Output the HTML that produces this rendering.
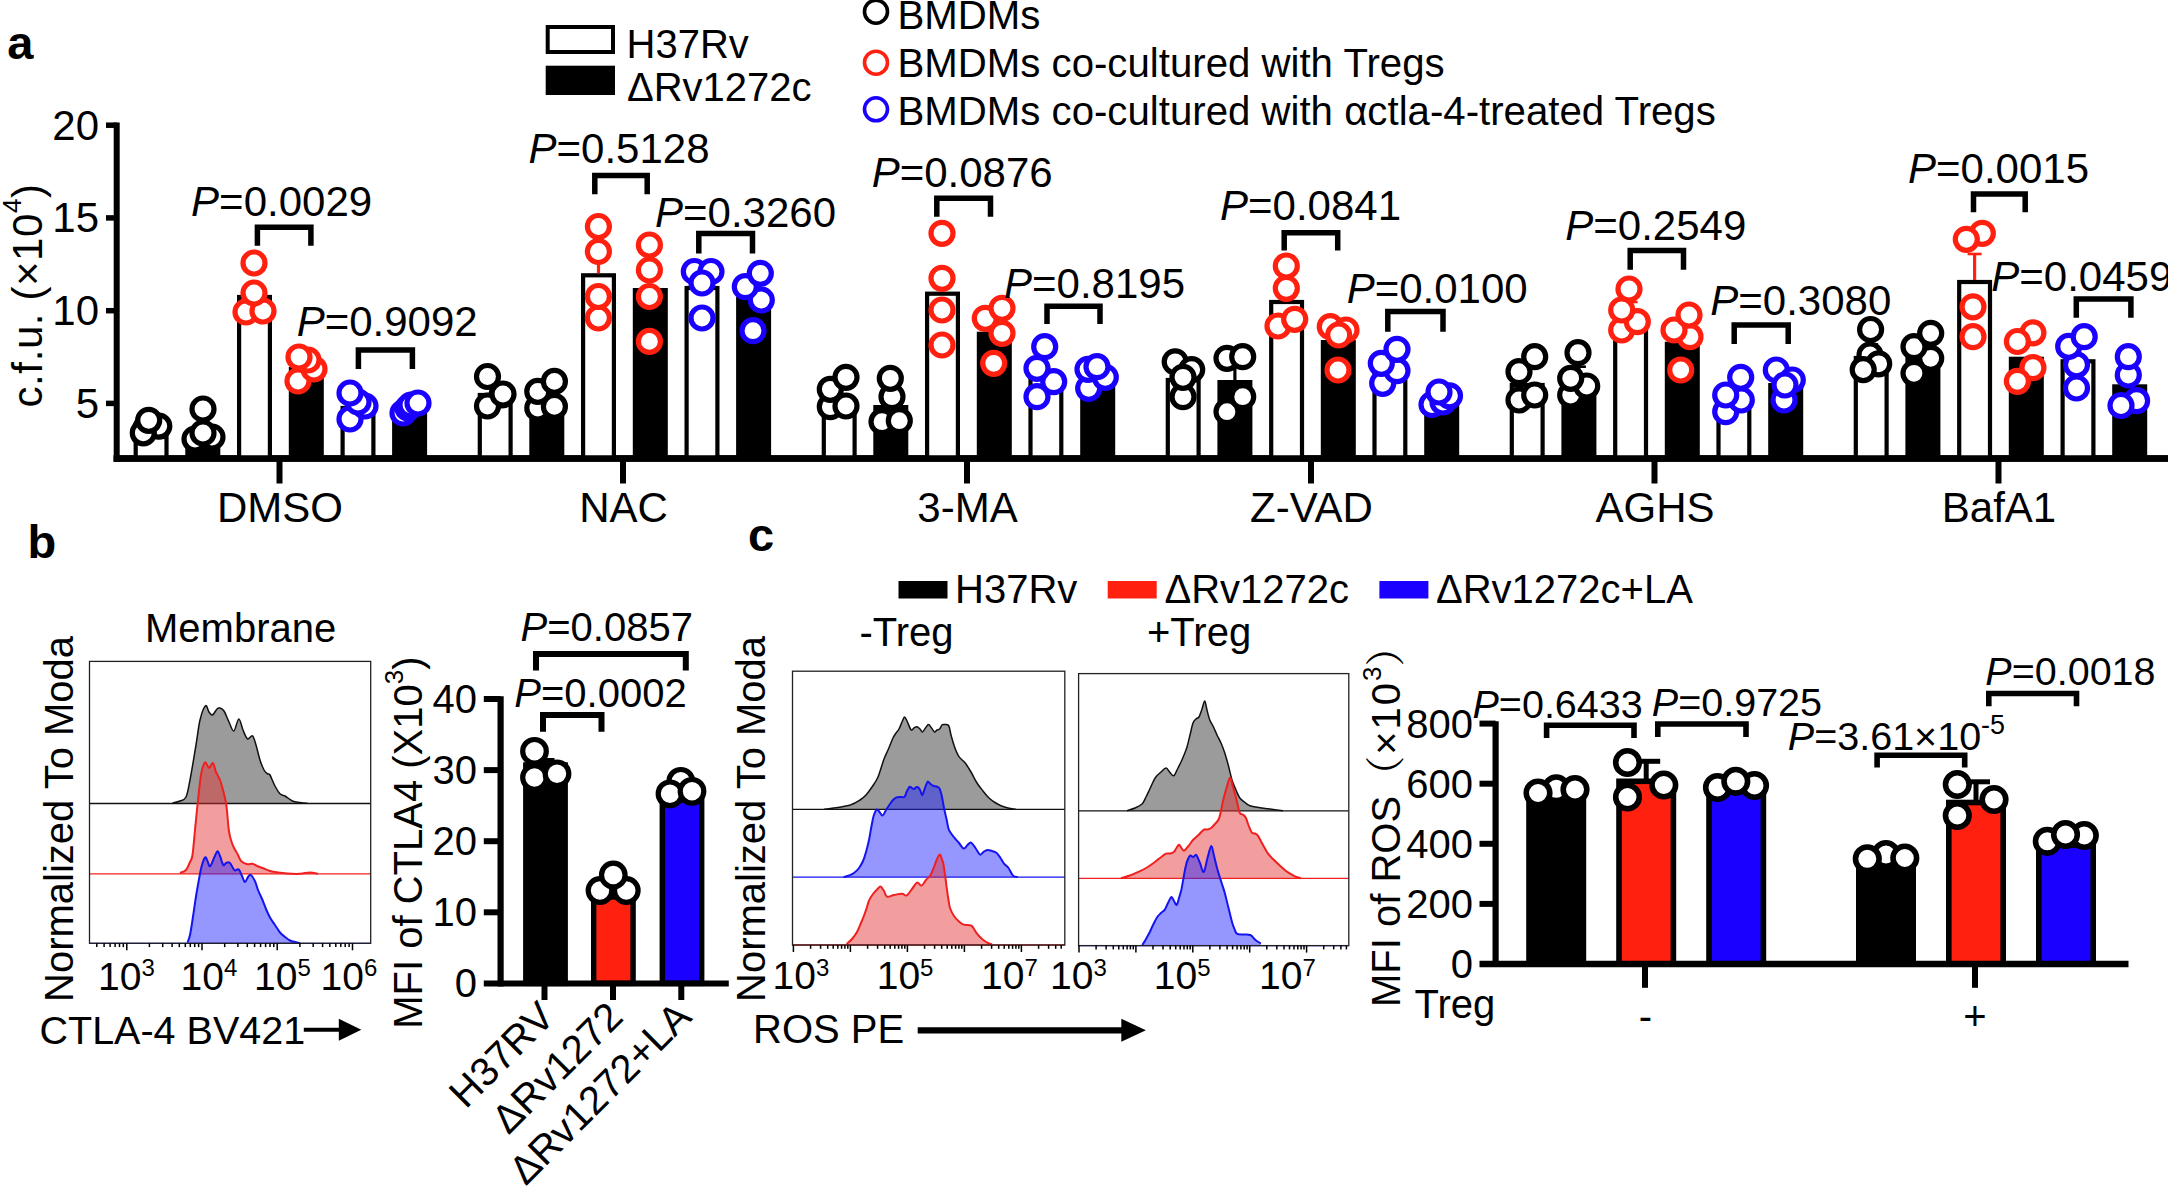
<!DOCTYPE html>
<html lang="en"><head><meta charset="utf-8"><title>Figure</title>
<style>html,body{margin:0;padding:0;background:#fff}svg{display:block}</style>
</head><body>
<svg width="2168" height="1186" viewBox="0 0 2168 1186" font-family="Liberation Sans, Arial, sans-serif" fill="#000">
<rect width="2168" height="1186" fill="#fff"/>
<text x="7.3" y="59.2" font-size="47" font-weight="bold" >a</text>
<text x="27.5" y="557.5" font-size="47" font-weight="bold" >b</text>
<text x="748.0" y="551.0" font-size="47" font-weight="bold" >c</text>
<rect x="547.7" y="27" width="65.3" height="25" fill="#fff" stroke="#000" stroke-width="4"/>
<rect x="545.7" y="65.7" width="69.3" height="29.3" fill="#000"/>
<text x="626.5" y="58.3" font-size="40" >H37Rv</text>
<text x="627.0" y="100.7" font-size="40" >ΔRv1272c</text>
<circle cx="876.0" cy="11.7" r="11.5" fill="#fff" stroke="#000" stroke-width="3.6"/>
<text x="897.5" y="29.0" font-size="40.2" >BMDMs</text>
<circle cx="876.0" cy="62.7" r="11.5" fill="#fff" stroke="#ff2010" stroke-width="3.6"/>
<text x="897.5" y="77.3" font-size="40.2" >BMDMs co-cultured with Tregs</text>
<circle cx="876.0" cy="109.3" r="11.5" fill="#fff" stroke="#1a00ff" stroke-width="3.6"/>
<text x="897.5" y="125.3" font-size="40.2" >BMDMs co-cultured with αctla-4-treated Tregs</text>
<line x1="116.7" y1="122.4" x2="116.7" y2="461.5" stroke="#000" stroke-width="6"/>
<line x1="113.7" y1="458.5" x2="2168" y2="458.5" stroke="#000" stroke-width="6.5"/>
<line x1="106" y1="403.4" x2="116.7" y2="403.4" stroke="#000" stroke-width="5.5"/>
<text x="99.0" y="417.7" font-size="42" text-anchor="end" >5</text>
<line x1="106" y1="310.7" x2="116.7" y2="310.7" stroke="#000" stroke-width="5.5"/>
<text x="99.0" y="325.0" font-size="42" text-anchor="end" >10</text>
<line x1="106" y1="217.9" x2="116.7" y2="217.9" stroke="#000" stroke-width="5.5"/>
<text x="99.0" y="232.2" font-size="42" text-anchor="end" >15</text>
<line x1="106" y1="125.2" x2="116.7" y2="125.2" stroke="#000" stroke-width="5.5"/>
<text x="99.0" y="139.5" font-size="42" text-anchor="end" >20</text>
<text x="42.2" y="407.5" font-size="42" transform="rotate(-90 42.2 407.5)" letter-spacing="0.6">c.f.u. (×10<tspan font-size="26" dy="-21">4</tspan><tspan dy="21">)</tspan></text>
<line x1="279.5" y1="458.5" x2="279.5" y2="483.5" stroke="#000" stroke-width="6"/>
<text x="280.0" y="521.5" font-size="42" text-anchor="middle" >DMSO</text>
<line x1="623" y1="458.5" x2="623" y2="483.5" stroke="#000" stroke-width="6"/>
<text x="623.5" y="521.5" font-size="42" text-anchor="middle" >NAC</text>
<line x1="967" y1="458.5" x2="967" y2="483.5" stroke="#000" stroke-width="6"/>
<text x="967.5" y="521.5" font-size="42" text-anchor="middle" >3-MA</text>
<line x1="1311" y1="458.5" x2="1311" y2="483.5" stroke="#000" stroke-width="6"/>
<text x="1311.5" y="521.5" font-size="42" text-anchor="middle" >Z-VAD</text>
<line x1="1654.5" y1="458.5" x2="1654.5" y2="483.5" stroke="#000" stroke-width="6"/>
<text x="1655.0" y="521.5" font-size="42" text-anchor="middle" >AGHS</text>
<line x1="1998.5" y1="458.5" x2="1998.5" y2="483.5" stroke="#000" stroke-width="6"/>
<text x="1999.0" y="521.5" font-size="42" text-anchor="middle" >BafA1</text>
<rect x="135.7" y="437.0" width="30.8" height="21.5" fill="#fff" stroke="#000" stroke-width="4.2"/>
<circle cx="146.0" cy="428.0" r="11.0" fill="#fff" stroke="#000" stroke-width="5.2"/>
<circle cx="158.8" cy="426.1" r="11.0" fill="#fff" stroke="#000" stroke-width="5.2"/>
<circle cx="143.3" cy="432.9" r="11.0" fill="#fff" stroke="#000" stroke-width="5.2"/>
<circle cx="148.7" cy="420.3" r="11.0" fill="#fff" stroke="#000" stroke-width="5.2"/>
<rect x="185.3" y="437.0" width="35" height="21.5" fill="#000"/>
<circle cx="195.0" cy="439.0" r="11.0" fill="#fff" stroke="#000" stroke-width="5.2"/>
<circle cx="212.0" cy="437.0" r="11.0" fill="#fff" stroke="#000" stroke-width="5.2"/>
<circle cx="203.0" cy="433.0" r="11.0" fill="#fff" stroke="#000" stroke-width="5.2"/>
<circle cx="203.0" cy="409.0" r="11.0" fill="#fff" stroke="#000" stroke-width="5.2"/>
<rect x="239.1" y="297.0" width="30.8" height="161.5" fill="#fff" stroke="#000" stroke-width="4.2"/>
<circle cx="246.0" cy="312.0" r="11.0" fill="#fff" stroke="#ff2010" stroke-width="5.2"/>
<circle cx="263.0" cy="311.0" r="11.0" fill="#fff" stroke="#ff2010" stroke-width="5.2"/>
<circle cx="254.0" cy="293.0" r="11.0" fill="#fff" stroke="#ff2010" stroke-width="5.2"/>
<circle cx="254.0" cy="263.0" r="11.0" fill="#fff" stroke="#ff2010" stroke-width="5.2"/>
<rect x="288.8" y="367.0" width="35" height="91.5" fill="#000"/>
<circle cx="298.0" cy="381.0" r="11.0" fill="#fff" stroke="#ff2010" stroke-width="5.2"/>
<circle cx="314.0" cy="369.0" r="11.0" fill="#fff" stroke="#ff2010" stroke-width="5.2"/>
<circle cx="308.0" cy="360.0" r="11.0" fill="#fff" stroke="#ff2010" stroke-width="5.2"/>
<circle cx="299.0" cy="357.0" r="11.0" fill="#fff" stroke="#ff2010" stroke-width="5.2"/>
<rect x="342.6" y="408.0" width="30.8" height="50.5" fill="#fff" stroke="#000" stroke-width="4.2"/>
<circle cx="350.0" cy="419.0" r="11.0" fill="#fff" stroke="#1a00ff" stroke-width="5.2"/>
<circle cx="365.0" cy="406.0" r="11.0" fill="#fff" stroke="#1a00ff" stroke-width="5.2"/>
<circle cx="358.0" cy="402.0" r="11.0" fill="#fff" stroke="#1a00ff" stroke-width="5.2"/>
<circle cx="350.0" cy="393.0" r="11.0" fill="#fff" stroke="#1a00ff" stroke-width="5.2"/>
<rect x="392.1" y="410.0" width="35" height="48.5" fill="#000"/>
<circle cx="403.0" cy="413.0" r="11.0" fill="#fff" stroke="#1a00ff" stroke-width="5.2"/>
<circle cx="408.0" cy="408.0" r="11.0" fill="#fff" stroke="#1a00ff" stroke-width="5.2"/>
<circle cx="411.0" cy="405.0" r="11.0" fill="#fff" stroke="#1a00ff" stroke-width="5.2"/>
<circle cx="418.0" cy="403.0" r="11.0" fill="#fff" stroke="#1a00ff" stroke-width="5.2"/>
<rect x="479.8" y="395.0" width="30.8" height="63.5" fill="#fff" stroke="#000" stroke-width="4.2"/>
<circle cx="502.0" cy="395.0" r="11.0" fill="#fff" stroke="#000" stroke-width="5.2"/>
<circle cx="487.5" cy="406.0" r="11.0" fill="#fff" stroke="#000" stroke-width="5.2"/>
<circle cx="503.0" cy="394.0" r="11.0" fill="#fff" stroke="#000" stroke-width="5.2"/>
<circle cx="487.5" cy="376.5" r="11.0" fill="#fff" stroke="#000" stroke-width="5.2"/>
<rect x="529.3" y="397.0" width="35" height="61.5" fill="#000"/>
<circle cx="537.8" cy="408.0" r="11.0" fill="#fff" stroke="#000" stroke-width="5.2"/>
<circle cx="554.4" cy="406.4" r="11.0" fill="#fff" stroke="#000" stroke-width="5.2"/>
<circle cx="537.8" cy="391.4" r="11.0" fill="#fff" stroke="#000" stroke-width="5.2"/>
<circle cx="554.4" cy="381.4" r="11.0" fill="#fff" stroke="#000" stroke-width="5.2"/>
<rect x="583.1" y="275.3" width="30.8" height="183.2" fill="#fff" stroke="#000" stroke-width="4.2"/>
<line x1="598.5" y1="273.3" x2="598.5" y2="235.0" stroke="#ff2010" stroke-width="3.2"/>
<line x1="591.5" y1="235.0" x2="605.5" y2="235.0" stroke="#ff2010" stroke-width="2.6"/>
<circle cx="598.4" cy="318.0" r="11.0" fill="#fff" stroke="#ff2010" stroke-width="5.2"/>
<circle cx="598.4" cy="296.5" r="11.0" fill="#fff" stroke="#ff2010" stroke-width="5.2"/>
<circle cx="598.4" cy="251.5" r="11.0" fill="#fff" stroke="#ff2010" stroke-width="5.2"/>
<circle cx="598.4" cy="226.5" r="11.0" fill="#fff" stroke="#ff2010" stroke-width="5.2"/>
<rect x="632.8" y="288.0" width="35" height="170.5" fill="#000"/>
<circle cx="649.4" cy="341.4" r="11.0" fill="#fff" stroke="#ff2010" stroke-width="5.2"/>
<circle cx="649.4" cy="296.5" r="11.0" fill="#fff" stroke="#ff2010" stroke-width="5.2"/>
<circle cx="649.4" cy="270.0" r="11.0" fill="#fff" stroke="#ff2010" stroke-width="5.2"/>
<circle cx="649.4" cy="245.0" r="11.0" fill="#fff" stroke="#ff2010" stroke-width="5.2"/>
<rect x="686.6" y="288.0" width="30.8" height="170.5" fill="#fff" stroke="#000" stroke-width="4.2"/>
<circle cx="702.0" cy="318.0" r="11.0" fill="#fff" stroke="#1a00ff" stroke-width="5.2"/>
<circle cx="694.3" cy="271.5" r="11.0" fill="#fff" stroke="#1a00ff" stroke-width="5.2"/>
<circle cx="711.0" cy="271.5" r="11.0" fill="#fff" stroke="#1a00ff" stroke-width="5.2"/>
<circle cx="702.0" cy="283.0" r="11.0" fill="#fff" stroke="#1a00ff" stroke-width="5.2"/>
<rect x="736.1" y="296.7" width="35" height="161.8" fill="#000"/>
<circle cx="753.0" cy="330.7" r="11.0" fill="#fff" stroke="#1a00ff" stroke-width="5.2"/>
<circle cx="761.3" cy="300.0" r="11.0" fill="#fff" stroke="#1a00ff" stroke-width="5.2"/>
<circle cx="745.3" cy="286.7" r="11.0" fill="#fff" stroke="#1a00ff" stroke-width="5.2"/>
<circle cx="760.3" cy="273.3" r="11.0" fill="#fff" stroke="#1a00ff" stroke-width="5.2"/>
<rect x="823.8" y="403.0" width="30.8" height="55.5" fill="#fff" stroke="#000" stroke-width="4.2"/>
<circle cx="830.3" cy="406.7" r="11.0" fill="#fff" stroke="#000" stroke-width="5.2"/>
<circle cx="846.0" cy="406.0" r="11.0" fill="#fff" stroke="#000" stroke-width="5.2"/>
<circle cx="830.3" cy="389.3" r="11.0" fill="#fff" stroke="#000" stroke-width="5.2"/>
<circle cx="846.0" cy="377.3" r="11.0" fill="#fff" stroke="#000" stroke-width="5.2"/>
<rect x="873.3" y="405.0" width="35" height="53.5" fill="#000"/>
<circle cx="882.0" cy="421.7" r="11.0" fill="#fff" stroke="#000" stroke-width="5.2"/>
<circle cx="899.3" cy="420.7" r="11.0" fill="#fff" stroke="#000" stroke-width="5.2"/>
<circle cx="892.0" cy="396.7" r="11.0" fill="#fff" stroke="#000" stroke-width="5.2"/>
<circle cx="890.3" cy="378.3" r="11.0" fill="#fff" stroke="#000" stroke-width="5.2"/>
<rect x="927.1" y="293.7" width="30.8" height="164.8" fill="#fff" stroke="#000" stroke-width="4.2"/>
<circle cx="942.0" cy="345.0" r="11.0" fill="#fff" stroke="#ff2010" stroke-width="5.2"/>
<circle cx="942.0" cy="310.0" r="11.0" fill="#fff" stroke="#ff2010" stroke-width="5.2"/>
<circle cx="942.0" cy="278.3" r="11.0" fill="#fff" stroke="#ff2010" stroke-width="5.2"/>
<circle cx="942.0" cy="233.3" r="11.0" fill="#fff" stroke="#ff2010" stroke-width="5.2"/>
<rect x="976.8" y="331.7" width="35" height="126.8" fill="#000"/>
<circle cx="993.7" cy="363.3" r="11.0" fill="#fff" stroke="#ff2010" stroke-width="5.2"/>
<circle cx="1002.0" cy="333.3" r="11.0" fill="#fff" stroke="#ff2010" stroke-width="5.2"/>
<circle cx="985.3" cy="318.3" r="11.0" fill="#fff" stroke="#ff2010" stroke-width="5.2"/>
<circle cx="1002.0" cy="308.3" r="11.0" fill="#fff" stroke="#ff2010" stroke-width="5.2"/>
<rect x="1030.5" y="377.0" width="30.8" height="81.5" fill="#fff" stroke="#000" stroke-width="4.2"/>
<circle cx="1037.0" cy="396.7" r="11.0" fill="#fff" stroke="#1a00ff" stroke-width="5.2"/>
<circle cx="1053.7" cy="381.7" r="11.0" fill="#fff" stroke="#1a00ff" stroke-width="5.2"/>
<circle cx="1037.0" cy="368.3" r="11.0" fill="#fff" stroke="#1a00ff" stroke-width="5.2"/>
<circle cx="1044.7" cy="346.7" r="11.0" fill="#fff" stroke="#1a00ff" stroke-width="5.2"/>
<rect x="1080.2" y="377.0" width="35" height="81.5" fill="#000"/>
<circle cx="1088.7" cy="388.3" r="11.0" fill="#fff" stroke="#1a00ff" stroke-width="5.2"/>
<circle cx="1105.3" cy="377.3" r="11.0" fill="#fff" stroke="#1a00ff" stroke-width="5.2"/>
<circle cx="1088.0" cy="369.3" r="11.0" fill="#fff" stroke="#1a00ff" stroke-width="5.2"/>
<circle cx="1097.0" cy="366.7" r="11.0" fill="#fff" stroke="#1a00ff" stroke-width="5.2"/>
<rect x="1167.8" y="380.0" width="30.8" height="78.5" fill="#fff" stroke="#000" stroke-width="4.2"/>
<circle cx="1183.0" cy="396.7" r="11.0" fill="#fff" stroke="#000" stroke-width="5.2"/>
<circle cx="1175.2" cy="361.8" r="11.0" fill="#fff" stroke="#000" stroke-width="5.2"/>
<circle cx="1191.7" cy="369.6" r="11.0" fill="#fff" stroke="#000" stroke-width="5.2"/>
<circle cx="1183.0" cy="377.3" r="11.0" fill="#fff" stroke="#000" stroke-width="5.2"/>
<rect x="1217.4" y="380.0" width="35" height="78.5" fill="#000"/>
<line x1="1234.9" y1="380.0" x2="1234.9" y2="362.0" stroke="#000" stroke-width="3.2"/>
<line x1="1227.9" y1="362.0" x2="1241.9" y2="362.0" stroke="#000" stroke-width="2.6"/>
<circle cx="1227.0" cy="411.7" r="11.0" fill="#fff" stroke="#000" stroke-width="5.2"/>
<circle cx="1242.7" cy="396.7" r="11.0" fill="#fff" stroke="#000" stroke-width="5.2"/>
<circle cx="1227.0" cy="358.3" r="11.0" fill="#fff" stroke="#000" stroke-width="5.2"/>
<circle cx="1242.7" cy="356.7" r="11.0" fill="#fff" stroke="#000" stroke-width="5.2"/>
<rect x="1271.2" y="302.0" width="30.8" height="156.5" fill="#fff" stroke="#000" stroke-width="4.2"/>
<circle cx="1278.0" cy="326.0" r="11.0" fill="#fff" stroke="#ff2010" stroke-width="5.2"/>
<circle cx="1294.7" cy="319.3" r="11.0" fill="#fff" stroke="#ff2010" stroke-width="5.2"/>
<circle cx="1286.3" cy="288.3" r="11.0" fill="#fff" stroke="#ff2010" stroke-width="5.2"/>
<circle cx="1286.3" cy="266.0" r="11.0" fill="#fff" stroke="#ff2010" stroke-width="5.2"/>
<rect x="1320.8" y="340.0" width="35" height="118.5" fill="#000"/>
<circle cx="1338.0" cy="370.0" r="11.0" fill="#fff" stroke="#ff2010" stroke-width="5.2"/>
<circle cx="1330.3" cy="326.7" r="11.0" fill="#fff" stroke="#ff2010" stroke-width="5.2"/>
<circle cx="1346.0" cy="330.0" r="11.0" fill="#fff" stroke="#ff2010" stroke-width="5.2"/>
<circle cx="1338.7" cy="335.0" r="11.0" fill="#fff" stroke="#ff2010" stroke-width="5.2"/>
<rect x="1374.5" y="370.0" width="30.8" height="88.5" fill="#fff" stroke="#000" stroke-width="4.2"/>
<circle cx="1382.7" cy="383.3" r="11.0" fill="#fff" stroke="#1a00ff" stroke-width="5.2"/>
<circle cx="1397.0" cy="370.7" r="11.0" fill="#fff" stroke="#1a00ff" stroke-width="5.2"/>
<circle cx="1381.3" cy="363.3" r="11.0" fill="#fff" stroke="#1a00ff" stroke-width="5.2"/>
<circle cx="1397.0" cy="349.3" r="11.0" fill="#fff" stroke="#1a00ff" stroke-width="5.2"/>
<rect x="1424.2" y="402.0" width="35" height="56.5" fill="#000"/>
<circle cx="1432.0" cy="404.5" r="11.0" fill="#fff" stroke="#1a00ff" stroke-width="5.2"/>
<circle cx="1443.0" cy="402.0" r="11.0" fill="#fff" stroke="#1a00ff" stroke-width="5.2"/>
<circle cx="1449.5" cy="395.8" r="11.0" fill="#fff" stroke="#1a00ff" stroke-width="5.2"/>
<circle cx="1439.0" cy="392.0" r="11.0" fill="#fff" stroke="#1a00ff" stroke-width="5.2"/>
<rect x="1511.8" y="385.0" width="30.8" height="73.5" fill="#fff" stroke="#000" stroke-width="4.2"/>
<circle cx="1519.0" cy="400.0" r="11.0" fill="#fff" stroke="#000" stroke-width="5.2"/>
<circle cx="1534.7" cy="395.0" r="11.0" fill="#fff" stroke="#000" stroke-width="5.2"/>
<circle cx="1519.0" cy="371.7" r="11.0" fill="#fff" stroke="#000" stroke-width="5.2"/>
<circle cx="1534.7" cy="356.7" r="11.0" fill="#fff" stroke="#000" stroke-width="5.2"/>
<rect x="1561.4" y="390.0" width="35" height="68.5" fill="#000"/>
<line x1="1578.9" y1="390.0" x2="1578.9" y2="366.7" stroke="#000" stroke-width="3.2"/>
<line x1="1571.9" y1="366.7" x2="1585.9" y2="366.7" stroke="#000" stroke-width="2.6"/>
<circle cx="1570.7" cy="395.0" r="11.0" fill="#fff" stroke="#000" stroke-width="5.2"/>
<circle cx="1586.7" cy="386.0" r="11.0" fill="#fff" stroke="#000" stroke-width="5.2"/>
<circle cx="1570.7" cy="378.3" r="11.0" fill="#fff" stroke="#000" stroke-width="5.2"/>
<circle cx="1578.0" cy="352.7" r="11.0" fill="#fff" stroke="#000" stroke-width="5.2"/>
<rect x="1615.2" y="320.0" width="30.8" height="138.5" fill="#fff" stroke="#000" stroke-width="4.2"/>
<line x1="1630.6" y1="318.0" x2="1630.6" y2="302.0" stroke="#ff2010" stroke-width="3.2"/>
<line x1="1623.6" y1="302.0" x2="1637.6" y2="302.0" stroke="#ff2010" stroke-width="2.6"/>
<circle cx="1621.7" cy="330.0" r="11.0" fill="#fff" stroke="#ff2010" stroke-width="5.2"/>
<circle cx="1637.3" cy="321.7" r="11.0" fill="#fff" stroke="#ff2010" stroke-width="5.2"/>
<circle cx="1621.7" cy="310.0" r="11.0" fill="#fff" stroke="#ff2010" stroke-width="5.2"/>
<circle cx="1629.0" cy="289.0" r="11.0" fill="#fff" stroke="#ff2010" stroke-width="5.2"/>
<rect x="1664.8" y="341.7" width="35" height="116.8" fill="#000"/>
<circle cx="1680.7" cy="370.0" r="11.0" fill="#fff" stroke="#ff2010" stroke-width="5.2"/>
<circle cx="1690.0" cy="336.7" r="11.0" fill="#fff" stroke="#ff2010" stroke-width="5.2"/>
<circle cx="1674.0" cy="330.0" r="11.0" fill="#fff" stroke="#ff2010" stroke-width="5.2"/>
<circle cx="1689.0" cy="315.0" r="11.0" fill="#fff" stroke="#ff2010" stroke-width="5.2"/>
<rect x="1718.5" y="398.0" width="30.8" height="60.5" fill="#fff" stroke="#000" stroke-width="4.2"/>
<circle cx="1725.7" cy="411.7" r="11.0" fill="#fff" stroke="#1a00ff" stroke-width="5.2"/>
<circle cx="1741.3" cy="400.0" r="11.0" fill="#fff" stroke="#1a00ff" stroke-width="5.2"/>
<circle cx="1725.7" cy="395.0" r="11.0" fill="#fff" stroke="#1a00ff" stroke-width="5.2"/>
<circle cx="1740.7" cy="377.3" r="11.0" fill="#fff" stroke="#1a00ff" stroke-width="5.2"/>
<rect x="1768.2" y="383.0" width="35" height="75.5" fill="#000"/>
<circle cx="1784.0" cy="400.0" r="11.0" fill="#fff" stroke="#1a00ff" stroke-width="5.2"/>
<circle cx="1776.3" cy="370.0" r="11.0" fill="#fff" stroke="#1a00ff" stroke-width="5.2"/>
<circle cx="1792.3" cy="380.0" r="11.0" fill="#fff" stroke="#1a00ff" stroke-width="5.2"/>
<circle cx="1785.0" cy="385.0" r="11.0" fill="#fff" stroke="#1a00ff" stroke-width="5.2"/>
<rect x="1855.8" y="358.0" width="30.8" height="100.5" fill="#fff" stroke="#000" stroke-width="4.2"/>
<line x1="1871.2" y1="356.0" x2="1871.2" y2="344.4" stroke="#000" stroke-width="3.2"/>
<line x1="1864.2" y1="344.4" x2="1878.2" y2="344.4" stroke="#000" stroke-width="2.6"/>
<circle cx="1870.0" cy="355.0" r="11.0" fill="#fff" stroke="#000" stroke-width="5.2"/>
<circle cx="1878.7" cy="363.8" r="11.0" fill="#fff" stroke="#000" stroke-width="5.2"/>
<circle cx="1863.2" cy="369.6" r="11.0" fill="#fff" stroke="#000" stroke-width="5.2"/>
<circle cx="1870.6" cy="329.5" r="11.0" fill="#fff" stroke="#000" stroke-width="5.2"/>
<rect x="1905.4" y="353.0" width="35" height="105.5" fill="#000"/>
<circle cx="1914.0" cy="373.3" r="11.0" fill="#fff" stroke="#000" stroke-width="5.2"/>
<circle cx="1930.7" cy="358.3" r="11.0" fill="#fff" stroke="#000" stroke-width="5.2"/>
<circle cx="1914.0" cy="346.7" r="11.0" fill="#fff" stroke="#000" stroke-width="5.2"/>
<circle cx="1930.7" cy="333.3" r="11.0" fill="#fff" stroke="#000" stroke-width="5.2"/>
<rect x="1959.2" y="282.0" width="30.8" height="176.5" fill="#fff" stroke="#000" stroke-width="4.2"/>
<line x1="1974.6" y1="280.0" x2="1974.6" y2="254.0" stroke="#ff2010" stroke-width="3.2"/>
<line x1="1967.6" y1="254.0" x2="1981.6" y2="254.0" stroke="#ff2010" stroke-width="2.6"/>
<circle cx="1973.0" cy="336.7" r="11.0" fill="#fff" stroke="#ff2010" stroke-width="5.2"/>
<circle cx="1973.0" cy="306.8" r="11.0" fill="#fff" stroke="#ff2010" stroke-width="5.2"/>
<circle cx="1982.3" cy="233.3" r="11.0" fill="#fff" stroke="#ff2010" stroke-width="5.2"/>
<circle cx="1966.3" cy="239.3" r="11.0" fill="#fff" stroke="#ff2010" stroke-width="5.2"/>
<rect x="2008.8" y="356.7" width="35" height="101.8" fill="#000"/>
<circle cx="2032.9" cy="367.7" r="11.0" fill="#fff" stroke="#ff2010" stroke-width="5.2"/>
<circle cx="2032.9" cy="332.8" r="11.0" fill="#fff" stroke="#ff2010" stroke-width="5.2"/>
<circle cx="2017.4" cy="381.3" r="11.0" fill="#fff" stroke="#ff2010" stroke-width="5.2"/>
<circle cx="2017.4" cy="341.5" r="11.0" fill="#fff" stroke="#ff2010" stroke-width="5.2"/>
<rect x="2062.6" y="361.3" width="30.8" height="97.2" fill="#fff" stroke="#000" stroke-width="4.2"/>
<circle cx="2076.5" cy="388.0" r="11.0" fill="#fff" stroke="#1a00ff" stroke-width="5.2"/>
<circle cx="2076.5" cy="364.8" r="11.0" fill="#fff" stroke="#1a00ff" stroke-width="5.2"/>
<circle cx="2068.7" cy="346.4" r="11.0" fill="#fff" stroke="#1a00ff" stroke-width="5.2"/>
<circle cx="2084.2" cy="336.7" r="11.0" fill="#fff" stroke="#1a00ff" stroke-width="5.2"/>
<rect x="2112.2" y="384.3" width="35" height="74.2" fill="#000"/>
<circle cx="2136.6" cy="400.7" r="11.0" fill="#fff" stroke="#1a00ff" stroke-width="5.2"/>
<circle cx="2121.0" cy="405.5" r="11.0" fill="#fff" stroke="#1a00ff" stroke-width="5.2"/>
<circle cx="2128.3" cy="375.0" r="11.0" fill="#fff" stroke="#1a00ff" stroke-width="5.2"/>
<circle cx="2128.3" cy="356.7" r="11.0" fill="#fff" stroke="#1a00ff" stroke-width="5.2"/>
<line x1="113.7" y1="458.5" x2="2168" y2="458.5" stroke="#000" stroke-width="6.5"/>
<text x="191.1" y="216.0" font-size="42" ><tspan font-style="italic">P</tspan>=0.0029</text>
<polyline points="257.4,245.7 257.4,227.3 310.9,227.3 310.9,245.7" fill="none" stroke="#000" stroke-width="5.5" stroke-linejoin="miter"/>
<text x="296.7" y="335.8" font-size="42" ><tspan font-style="italic">P</tspan>=0.9092</text>
<polyline points="358.4,369.0 358.4,350.1 412.4,350.1 412.4,369.0" fill="none" stroke="#000" stroke-width="5.5" stroke-linejoin="miter"/>
<text x="528.5" y="163.3" font-size="42" ><tspan font-style="italic">P</tspan>=0.5128</text>
<polyline points="594.8,194.3 594.8,175.6 647.2,175.6 647.2,194.3" fill="none" stroke="#000" stroke-width="5.5" stroke-linejoin="miter"/>
<text x="655.0" y="226.5" font-size="42" ><tspan font-style="italic">P</tspan>=0.3260</text>
<polyline points="698.8,253.5 698.8,233.5 752.5,233.5 752.5,253.5" fill="none" stroke="#000" stroke-width="5.5" stroke-linejoin="miter"/>
<text x="871.7" y="187.3" font-size="42" ><tspan font-style="italic">P</tspan>=0.0876</text>
<polyline points="936.8,216.7 936.8,198.3 990.5,198.3 990.5,216.7" fill="none" stroke="#000" stroke-width="5.5" stroke-linejoin="miter"/>
<text x="1004.0" y="298.3" font-size="42" ><tspan font-style="italic">P</tspan>=0.8195</text>
<polyline points="1047.0,324.0 1047.0,306.3 1100.0,306.3 1100.0,324.0" fill="none" stroke="#000" stroke-width="5.5" stroke-linejoin="miter"/>
<text x="1220.0" y="220.0" font-size="42" ><tspan font-style="italic">P</tspan>=0.0841</text>
<polyline points="1284.2,250.4 1284.2,232.7 1337.7,232.7 1337.7,250.4" fill="none" stroke="#000" stroke-width="5.5" stroke-linejoin="miter"/>
<text x="1346.7" y="303.3" font-size="42" ><tspan font-style="italic">P</tspan>=0.0100</text>
<polyline points="1387.8,331.8 1387.8,311.6 1443.0,311.6 1443.0,331.8" fill="none" stroke="#000" stroke-width="5.5" stroke-linejoin="miter"/>
<text x="1565.3" y="240.0" font-size="42" ><tspan font-style="italic">P</tspan>=0.2549</text>
<polyline points="1630.2,269.8 1630.2,250.6 1683.5,250.6 1683.5,269.8" fill="none" stroke="#000" stroke-width="5.5" stroke-linejoin="miter"/>
<text x="1710.3" y="315.0" font-size="42" ><tspan font-style="italic">P</tspan>=0.3080</text>
<polyline points="1734.2,344.0 1734.2,325.0 1788.2,325.0 1788.2,344.0" fill="none" stroke="#000" stroke-width="5.5" stroke-linejoin="miter"/>
<text x="1908.0" y="183.3" font-size="42" ><tspan font-style="italic">P</tspan>=0.0015</text>
<polyline points="1973.5,212.3 1973.5,194.0 2025.2,194.0 2025.2,212.3" fill="none" stroke="#000" stroke-width="5.5" stroke-linejoin="miter"/>
<text x="1991.3" y="290.7" font-size="42" ><tspan font-style="italic">P</tspan>=0.0459</text>
<polyline points="2076.3,317.7 2076.3,299.0 2130.9,299.0 2130.9,317.7" fill="none" stroke="#000" stroke-width="5.5" stroke-linejoin="miter"/>
<path d="M172.5,803.0 C173.8,802.7 177.8,802.0 180.0,801.0 C182.2,800.0 184.3,800.5 186.0,797.0 C187.7,793.5 188.3,788.7 190.0,780.0 C191.7,771.3 194.3,755.0 196.0,745.0 C197.7,735.0 198.4,726.5 200.0,720.0 C201.6,713.5 204.0,707.1 205.5,705.8 C207.0,704.5 207.8,710.5 209.0,712.0 C210.2,713.5 211.2,715.5 212.5,715.0 C213.8,714.5 215.8,710.2 217.0,709.0 C218.2,707.8 218.8,707.7 220.0,708.0 C221.2,708.3 222.5,708.7 224.0,711.0 C225.5,713.3 227.4,718.7 229.0,722.0 C230.6,725.3 232.2,731.5 233.8,731.0 C235.4,730.5 237.3,719.2 238.8,719.0 C240.3,718.8 241.6,726.7 243.0,730.0 C244.4,733.3 245.9,737.8 247.5,738.8 C249.1,739.8 251.1,734.8 252.5,735.8 C253.9,736.8 254.8,741.0 256.0,745.0 C257.2,749.0 258.7,755.8 260.0,760.0 C261.3,764.2 262.8,767.7 264.0,770.0 C265.2,772.3 266.5,773.0 267.5,773.8 C268.5,774.6 268.8,773.0 270.0,775.0 C271.2,777.0 273.3,782.9 275.0,786.0 C276.7,789.1 278.3,792.1 280.0,793.8 C281.7,795.5 282.9,794.8 285.0,796.0 C287.1,797.2 290.0,799.9 292.5,801.0 C295.0,802.1 297.5,802.1 300.0,802.5 C302.5,802.9 306.2,803.2 307.5,803.3 L307.5,803.5 L172.5,803.5 Z" fill="#9b9b9b" fill-opacity="1.0" stroke="none"/>
<path d="M89.5,803.5 L370.7,803.5" fill="none" stroke="#111" stroke-width="1.3"/>
<path d="M172.5,803.0 C173.8,802.7 177.8,802.0 180.0,801.0 C182.2,800.0 184.3,800.5 186.0,797.0 C187.7,793.5 188.3,788.7 190.0,780.0 C191.7,771.3 194.3,755.0 196.0,745.0 C197.7,735.0 198.4,726.5 200.0,720.0 C201.6,713.5 204.0,707.1 205.5,705.8 C207.0,704.5 207.8,710.5 209.0,712.0 C210.2,713.5 211.2,715.5 212.5,715.0 C213.8,714.5 215.8,710.2 217.0,709.0 C218.2,707.8 218.8,707.7 220.0,708.0 C221.2,708.3 222.5,708.7 224.0,711.0 C225.5,713.3 227.4,718.7 229.0,722.0 C230.6,725.3 232.2,731.5 233.8,731.0 C235.4,730.5 237.3,719.2 238.8,719.0 C240.3,718.8 241.6,726.7 243.0,730.0 C244.4,733.3 245.9,737.8 247.5,738.8 C249.1,739.8 251.1,734.8 252.5,735.8 C253.9,736.8 254.8,741.0 256.0,745.0 C257.2,749.0 258.7,755.8 260.0,760.0 C261.3,764.2 262.8,767.7 264.0,770.0 C265.2,772.3 266.5,773.0 267.5,773.8 C268.5,774.6 268.8,773.0 270.0,775.0 C271.2,777.0 273.3,782.9 275.0,786.0 C276.7,789.1 278.3,792.1 280.0,793.8 C281.7,795.5 282.9,794.8 285.0,796.0 C287.1,797.2 290.0,799.9 292.5,801.0 C295.0,802.1 297.5,802.1 300.0,802.5 C302.5,802.9 306.2,803.2 307.5,803.3" fill="none" stroke="#111" stroke-width="1.5" stroke-linejoin="round"/>
<path d="M180.0,873.0 C181.0,872.5 184.3,871.8 186.0,870.0 C187.7,868.2 188.9,864.5 190.0,862.0 C191.1,859.5 191.7,860.3 192.5,855.0 C193.3,849.7 194.2,838.3 195.0,830.0 C195.8,821.7 196.5,814.2 197.5,805.0 C198.5,795.8 199.8,782.1 201.0,775.0 C202.2,767.9 203.7,763.7 205.0,762.5 C206.3,761.3 207.7,767.9 209.0,768.0 C210.3,768.1 211.8,762.3 213.0,763.0 C214.2,763.7 214.8,769.2 216.0,772.0 C217.2,774.8 218.8,777.0 220.0,780.0 C221.2,783.0 221.9,785.8 223.0,790.0 C224.1,794.2 225.3,798.3 226.3,805.0 C227.3,811.7 228.0,824.2 228.8,830.0 C229.6,835.8 230.2,837.1 231.0,840.0 C231.8,842.9 232.6,845.0 233.8,847.5 C235.0,850.0 236.8,852.7 238.0,855.0 C239.2,857.3 239.7,859.8 241.3,861.3 C242.9,862.8 245.6,863.9 247.5,864.3 C249.4,864.7 250.9,863.5 252.5,863.8 C254.1,864.1 255.3,865.3 257.0,866.0 C258.7,866.7 260.3,867.2 262.5,868.0 C264.7,868.8 267.9,870.3 270.0,871.0 C272.1,871.7 272.2,871.6 275.0,872.0 C277.8,872.4 282.8,873.2 287.0,873.5 C291.2,873.8 296.2,874.0 300.0,873.8 C303.8,873.6 307.0,872.5 310.0,872.5 C313.0,872.5 316.7,873.6 318.0,873.8 L318.0,873.8 L180.0,873.8 Z" fill="#e63030" fill-opacity="0.47" stroke="none"/>
<path d="M89.5,873.8 L370.7,873.8" fill="none" stroke="#f02020" stroke-width="1.3"/>
<path d="M180.0,873.0 C181.0,872.5 184.3,871.8 186.0,870.0 C187.7,868.2 188.9,864.5 190.0,862.0 C191.1,859.5 191.7,860.3 192.5,855.0 C193.3,849.7 194.2,838.3 195.0,830.0 C195.8,821.7 196.5,814.2 197.5,805.0 C198.5,795.8 199.8,782.1 201.0,775.0 C202.2,767.9 203.7,763.7 205.0,762.5 C206.3,761.3 207.7,767.9 209.0,768.0 C210.3,768.1 211.8,762.3 213.0,763.0 C214.2,763.7 214.8,769.2 216.0,772.0 C217.2,774.8 218.8,777.0 220.0,780.0 C221.2,783.0 221.9,785.8 223.0,790.0 C224.1,794.2 225.3,798.3 226.3,805.0 C227.3,811.7 228.0,824.2 228.8,830.0 C229.6,835.8 230.2,837.1 231.0,840.0 C231.8,842.9 232.6,845.0 233.8,847.5 C235.0,850.0 236.8,852.7 238.0,855.0 C239.2,857.3 239.7,859.8 241.3,861.3 C242.9,862.8 245.6,863.9 247.5,864.3 C249.4,864.7 250.9,863.5 252.5,863.8 C254.1,864.1 255.3,865.3 257.0,866.0 C258.7,866.7 260.3,867.2 262.5,868.0 C264.7,868.8 267.9,870.3 270.0,871.0 C272.1,871.7 272.2,871.6 275.0,872.0 C277.8,872.4 282.8,873.2 287.0,873.5 C291.2,873.8 296.2,874.0 300.0,873.8 C303.8,873.6 307.0,872.5 310.0,872.5 C313.0,872.5 316.7,873.6 318.0,873.8" fill="none" stroke="#f02020" stroke-width="2.0" stroke-linejoin="round"/>
<path d="M187.5,942.5 C187.9,941.2 189.2,938.8 190.0,935.0 C190.8,931.2 191.7,925.3 192.5,920.0 C193.3,914.7 194.2,908.4 195.0,903.0 C195.8,897.6 196.4,893.4 197.5,887.5 C198.6,881.6 200.1,872.5 201.3,867.5 C202.6,862.5 204.0,858.6 205.0,857.5 C206.0,856.4 206.7,859.5 207.5,861.0 C208.3,862.5 208.9,866.8 210.0,866.3 C211.1,865.8 212.8,860.5 214.0,858.0 C215.2,855.5 216.5,851.6 217.5,851.3 C218.5,851.0 219.0,853.7 220.0,856.0 C221.0,858.3 222.3,863.8 223.3,865.0 C224.3,866.2 225.0,863.4 226.0,863.0 C227.0,862.6 228.3,861.7 229.5,862.5 C230.7,863.3 232.1,866.7 233.0,868.0 C233.9,869.3 234.0,870.2 235.0,870.5 C236.0,870.8 237.6,868.6 238.8,869.5 C240.0,870.4 241.0,873.9 242.0,876.0 C243.0,878.1 244.0,881.8 245.0,882.0 C246.0,882.2 247.0,878.2 248.0,877.0 C249.0,875.8 249.6,874.3 250.8,875.0 C252.0,875.7 253.8,878.8 255.0,881.3 C256.2,883.8 256.8,886.9 258.0,890.0 C259.2,893.1 261.2,896.8 262.5,900.0 C263.8,903.2 264.8,906.1 266.0,909.0 C267.2,911.9 268.5,914.8 270.0,917.5 C271.5,920.2 273.3,922.5 275.0,925.0 C276.7,927.5 278.3,930.5 280.0,932.5 C281.7,934.5 283.3,935.7 285.0,937.0 C286.7,938.3 288.3,939.7 290.0,940.5 C291.7,941.3 293.3,941.6 295.0,942.0 C296.7,942.4 299.2,942.8 300.0,943.0 L300.0,943.3 L187.5,943.3 Z" fill="#2020ff" fill-opacity="0.47" stroke="none"/>
<path d="M89.5,943.3 L370.7,943.3" fill="none" stroke="#1414f0" stroke-width="1.3"/>
<path d="M187.5,942.5 C187.9,941.2 189.2,938.8 190.0,935.0 C190.8,931.2 191.7,925.3 192.5,920.0 C193.3,914.7 194.2,908.4 195.0,903.0 C195.8,897.6 196.4,893.4 197.5,887.5 C198.6,881.6 200.1,872.5 201.3,867.5 C202.6,862.5 204.0,858.6 205.0,857.5 C206.0,856.4 206.7,859.5 207.5,861.0 C208.3,862.5 208.9,866.8 210.0,866.3 C211.1,865.8 212.8,860.5 214.0,858.0 C215.2,855.5 216.5,851.6 217.5,851.3 C218.5,851.0 219.0,853.7 220.0,856.0 C221.0,858.3 222.3,863.8 223.3,865.0 C224.3,866.2 225.0,863.4 226.0,863.0 C227.0,862.6 228.3,861.7 229.5,862.5 C230.7,863.3 232.1,866.7 233.0,868.0 C233.9,869.3 234.0,870.2 235.0,870.5 C236.0,870.8 237.6,868.6 238.8,869.5 C240.0,870.4 241.0,873.9 242.0,876.0 C243.0,878.1 244.0,881.8 245.0,882.0 C246.0,882.2 247.0,878.2 248.0,877.0 C249.0,875.8 249.6,874.3 250.8,875.0 C252.0,875.7 253.8,878.8 255.0,881.3 C256.2,883.8 256.8,886.9 258.0,890.0 C259.2,893.1 261.2,896.8 262.5,900.0 C263.8,903.2 264.8,906.1 266.0,909.0 C267.2,911.9 268.5,914.8 270.0,917.5 C271.5,920.2 273.3,922.5 275.0,925.0 C276.7,927.5 278.3,930.5 280.0,932.5 C281.7,934.5 283.3,935.7 285.0,937.0 C286.7,938.3 288.3,939.7 290.0,940.5 C291.7,941.3 293.3,941.6 295.0,942.0 C296.7,942.4 299.2,942.8 300.0,943.0" fill="none" stroke="#1414f0" stroke-width="2.0" stroke-linejoin="round"/>
<rect x="89.5" y="661.4" width="281.2" height="281.9" fill="none" stroke="#222" stroke-width="1.3"/>
<line x1="96.8" y1="943.3" x2="96.8" y2="947.1" stroke="#000" stroke-width="1.5"/>
<line x1="104.1" y1="943.3" x2="104.1" y2="947.1" stroke="#000" stroke-width="1.5"/>
<line x1="110.1" y1="943.3" x2="110.1" y2="947.1" stroke="#000" stroke-width="1.5"/>
<line x1="115.1" y1="943.3" x2="115.1" y2="947.1" stroke="#000" stroke-width="1.5"/>
<line x1="119.5" y1="943.3" x2="119.5" y2="947.1" stroke="#000" stroke-width="1.5"/>
<line x1="123.3" y1="943.3" x2="123.3" y2="947.1" stroke="#000" stroke-width="1.5"/>
<line x1="126.8" y1="943.3" x2="126.8" y2="950.3" stroke="#000" stroke-width="1.5"/>
<line x1="149.4" y1="943.3" x2="149.4" y2="947.1" stroke="#000" stroke-width="1.5"/>
<line x1="162.7" y1="943.3" x2="162.7" y2="947.1" stroke="#000" stroke-width="1.5"/>
<line x1="172.1" y1="943.3" x2="172.1" y2="947.1" stroke="#000" stroke-width="1.5"/>
<line x1="179.3" y1="943.3" x2="179.3" y2="947.1" stroke="#000" stroke-width="1.5"/>
<line x1="185.3" y1="943.3" x2="185.3" y2="947.1" stroke="#000" stroke-width="1.5"/>
<line x1="190.3" y1="943.3" x2="190.3" y2="947.1" stroke="#000" stroke-width="1.5"/>
<line x1="194.7" y1="943.3" x2="194.7" y2="947.1" stroke="#000" stroke-width="1.5"/>
<line x1="198.6" y1="943.3" x2="198.6" y2="947.1" stroke="#000" stroke-width="1.5"/>
<line x1="202.0" y1="943.3" x2="202.0" y2="950.3" stroke="#000" stroke-width="1.5"/>
<line x1="224.7" y1="943.3" x2="224.7" y2="947.1" stroke="#000" stroke-width="1.5"/>
<line x1="237.9" y1="943.3" x2="237.9" y2="947.1" stroke="#000" stroke-width="1.5"/>
<line x1="247.3" y1="943.3" x2="247.3" y2="947.1" stroke="#000" stroke-width="1.5"/>
<line x1="254.6" y1="943.3" x2="254.6" y2="947.1" stroke="#000" stroke-width="1.5"/>
<line x1="260.6" y1="943.3" x2="260.6" y2="947.1" stroke="#000" stroke-width="1.5"/>
<line x1="265.6" y1="943.3" x2="265.6" y2="947.1" stroke="#000" stroke-width="1.5"/>
<line x1="270.0" y1="943.3" x2="270.0" y2="947.1" stroke="#000" stroke-width="1.5"/>
<line x1="273.8" y1="943.3" x2="273.8" y2="947.1" stroke="#000" stroke-width="1.5"/>
<line x1="277.2" y1="943.3" x2="277.2" y2="950.3" stroke="#000" stroke-width="1.5"/>
<line x1="299.9" y1="943.3" x2="299.9" y2="947.1" stroke="#000" stroke-width="1.5"/>
<line x1="313.2" y1="943.3" x2="313.2" y2="947.1" stroke="#000" stroke-width="1.5"/>
<line x1="322.6" y1="943.3" x2="322.6" y2="947.1" stroke="#000" stroke-width="1.5"/>
<line x1="329.8" y1="943.3" x2="329.8" y2="947.1" stroke="#000" stroke-width="1.5"/>
<line x1="335.8" y1="943.3" x2="335.8" y2="947.1" stroke="#000" stroke-width="1.5"/>
<line x1="340.8" y1="943.3" x2="340.8" y2="947.1" stroke="#000" stroke-width="1.5"/>
<line x1="345.2" y1="943.3" x2="345.2" y2="947.1" stroke="#000" stroke-width="1.5"/>
<line x1="349.1" y1="943.3" x2="349.1" y2="947.1" stroke="#000" stroke-width="1.5"/>
<line x1="352.5" y1="943.3" x2="352.5" y2="950.3" stroke="#000" stroke-width="1.5"/>
<text x="98.0" y="989.5" font-size="39" >10<tspan font-size="24" dy="-13.3">3</tspan></text>
<text x="180.5" y="989.5" font-size="39" >10<tspan font-size="24" dy="-13.3">4</tspan></text>
<text x="254.0" y="989.5" font-size="39" >10<tspan font-size="24" dy="-13.3">5</tspan></text>
<text x="320.5" y="989.5" font-size="39" >10<tspan font-size="24" dy="-13.3">6</tspan></text>
<text x="145.0" y="641.6" font-size="40" >Membrane</text>
<text x="72.5" y="1002.0" font-size="40" transform="rotate(-90 72.5 1002.0)" >Normalized To Moda</text>
<text x="39.5" y="1043.8" font-size="39.5" >CTLA-4 BV421</text>
<line x1="303.8" y1="1029.7" x2="340.8" y2="1029.7" stroke="#000" stroke-width="4"/>
<polygon points="338.8,1018.7 361.3,1029.7 338.8,1040.7" fill="#000"/>
<text x="422.5" y="1028.8" font-size="40" transform="rotate(-90 422.5 1028.8)" >MFI of CTLA4 (X10<tspan font-size="26" dy="-19">3</tspan><tspan dy="19">)</tspan></text>
<line x1="500.6" y1="696.3" x2="500.6" y2="986.4" stroke="#000" stroke-width="6.2"/>
<text x="477.0" y="997.4" font-size="40" text-anchor="end" >0</text>
<line x1="483.8" y1="912.3" x2="500.6" y2="912.3" stroke="#000" stroke-width="6"/>
<text x="477.0" y="926.3" font-size="40" text-anchor="end" >10</text>
<line x1="483.8" y1="841.2" x2="500.6" y2="841.2" stroke="#000" stroke-width="6"/>
<text x="477.0" y="855.2" font-size="40" text-anchor="end" >20</text>
<line x1="483.8" y1="770.1" x2="500.6" y2="770.1" stroke="#000" stroke-width="6"/>
<text x="477.0" y="784.1" font-size="40" text-anchor="end" >30</text>
<line x1="483.8" y1="699.0" x2="500.6" y2="699.0" stroke="#000" stroke-width="6"/>
<text x="477.0" y="713.0" font-size="40" text-anchor="end" >40</text>
<line x1="545.5" y1="765" x2="545.5" y2="760" stroke="#000" stroke-width="5"/><line x1="536.5" y1="760" x2="554.5" y2="760" stroke="#000" stroke-width="4"/>
<rect x="525.8" y="765.0" width="39.4" height="218.4" fill="#000" stroke="#000" stroke-width="5.4"/>
<circle cx="534.5" cy="777.5" r="11.8" fill="#fff" stroke="#000" stroke-width="5.2"/>
<circle cx="557.0" cy="773.8" r="11.8" fill="#fff" stroke="#000" stroke-width="5.2"/>
<circle cx="534.5" cy="751.3" r="11.8" fill="#fff" stroke="#000" stroke-width="5.2"/>
<rect x="593.7" y="897.0" width="39.4" height="86.4" fill="#ff2010" stroke="#000" stroke-width="5.4"/>
<circle cx="600.0" cy="890.5" r="11.8" fill="#fff" stroke="#000" stroke-width="5.2"/>
<circle cx="626.3" cy="890.5" r="11.8" fill="#fff" stroke="#000" stroke-width="5.2"/>
<circle cx="613.3" cy="875.0" r="11.8" fill="#fff" stroke="#000" stroke-width="5.2"/>
<rect x="662.3" y="800.0" width="39.4" height="183.4" fill="#1a00ff" stroke="#000" stroke-width="5.4"/>
<circle cx="680.8" cy="781.3" r="11.8" fill="#fff" stroke="#000" stroke-width="5.2"/>
<circle cx="670.0" cy="793.8" r="11.8" fill="#fff" stroke="#000" stroke-width="5.2"/>
<circle cx="692.0" cy="791.3" r="11.8" fill="#fff" stroke="#000" stroke-width="5.2"/>
<line x1="483.8" y1="983.4" x2="728.8" y2="983.4" stroke="#000" stroke-width="6"/>
<line x1="544.5" y1="983.4" x2="544.5" y2="1000" stroke="#000" stroke-width="6"/>
<line x1="613" y1="983.4" x2="613" y2="1000" stroke="#000" stroke-width="6"/>
<line x1="681.3" y1="983.4" x2="681.3" y2="1000" stroke="#000" stroke-width="6"/>
<text x="556.5" y="1019.0" font-size="40" text-anchor="end" transform="rotate(-45 556.5 1019.0)" >H37RV</text>
<text x="625.0" y="1019.0" font-size="40" text-anchor="end" transform="rotate(-45 625.0 1019.0)" >ΔRv1272</text>
<text x="693.3" y="1019.0" font-size="40" text-anchor="end" transform="rotate(-45 693.3 1019.0)" >ΔRv1272+LA</text>
<text x="520.5" y="641.3" font-size="40" ><tspan font-style="italic">P</tspan>=0.0857</text>
<polyline points="536.0,670.5 536.0,654.0 685.8,654.0 685.8,670.5" fill="none" stroke="#000" stroke-width="6" stroke-linejoin="miter"/>
<text x="514.3" y="707.0" font-size="40" ><tspan font-style="italic">P</tspan>=0.0002</text>
<polyline points="543.0,731.8 543.0,715.0 601.5,715.0 601.5,731.8" fill="none" stroke="#000" stroke-width="6" stroke-linejoin="miter"/>
<rect x="898.5" y="581" width="49" height="17.5" fill="#000"/>
<text x="955.0" y="603.0" font-size="40" >H37Rv</text>
<rect x="1107.7" y="581" width="49" height="17.5" fill="#ff2010"/>
<text x="1164.5" y="603.0" font-size="40" >ΔRv1272c</text>
<rect x="1379.4" y="581" width="49" height="17.5" fill="#1a00ff"/>
<text x="1436.0" y="603.0" font-size="40" >ΔRv1272c+LA</text>
<text x="765.0" y="1002.0" font-size="40" transform="rotate(-90 765.0 1002.0)" >Normalized To Moda</text>
<text x="859.5" y="645.7" font-size="40" >-Treg</text>
<text x="1147.0" y="645.7" font-size="40" >+Treg</text>
<path d="M824.0,809.3 C826.3,809.0 833.5,808.2 838.0,807.5 C842.5,806.8 847.3,806.0 851.0,804.8 C854.7,803.5 857.5,801.6 860.0,800.0 C862.5,798.4 864.0,797.2 866.0,795.0 C868.0,792.8 870.0,790.0 872.0,787.0 C874.0,784.0 876.0,781.7 878.0,777.0 C880.0,772.3 882.3,763.5 884.0,759.0 C885.7,754.5 886.5,753.5 888.0,750.0 C889.5,746.5 891.7,740.8 893.0,738.0 C894.3,735.2 895.0,734.5 896.0,733.0 C897.0,731.5 898.0,730.8 899.0,729.0 C900.0,727.2 901.1,724.0 902.0,722.0 C902.9,720.0 903.7,717.2 904.5,717.0 C905.3,716.8 905.9,718.9 907.0,721.0 C908.1,723.1 909.8,728.5 911.0,729.7 C912.2,730.9 913.0,728.5 914.0,728.0 C915.0,727.5 916.0,726.5 917.0,726.7 C918.0,726.9 919.1,728.1 920.0,729.0 C920.9,729.9 921.6,732.2 922.5,732.0 C923.4,731.8 924.5,729.2 925.5,728.0 C926.5,726.8 927.5,724.6 928.5,724.6 C929.5,724.6 930.5,726.8 931.5,728.0 C932.5,729.2 933.6,731.7 934.5,732.0 C935.4,732.3 936.1,730.5 937.0,730.0 C937.9,729.5 938.8,729.8 939.6,729.0 C940.4,728.2 941.3,725.7 942.0,725.0 C942.7,724.3 942.9,724.5 944.0,724.6 C945.1,724.7 947.4,723.8 948.6,725.5 C949.8,727.2 950.0,731.4 951.0,735.0 C952.0,738.6 953.3,743.4 954.6,747.0 C955.9,750.6 957.3,754.1 959.0,756.7 C960.7,759.3 963.0,760.2 965.0,762.7 C967.0,765.2 969.0,768.6 971.0,772.0 C973.0,775.4 975.0,779.8 977.0,783.0 C979.0,786.2 981.0,788.5 983.0,791.0 C985.0,793.5 987.0,796.1 989.0,798.0 C991.0,799.9 993.0,801.2 995.0,802.5 C997.0,803.8 998.8,804.8 1001.0,805.7 C1003.2,806.6 1005.5,807.4 1008.0,808.0 C1010.5,808.6 1014.7,809.1 1016.0,809.3 L1016.0,809.3 L824.0,809.3 Z" fill="#9b9b9b" fill-opacity="1.0" stroke="none"/>
<path d="M792.5,809.3 L1064.8,809.3" fill="none" stroke="#111" stroke-width="1.3"/>
<path d="M824.0,809.3 C826.3,809.0 833.5,808.2 838.0,807.5 C842.5,806.8 847.3,806.0 851.0,804.8 C854.7,803.5 857.5,801.6 860.0,800.0 C862.5,798.4 864.0,797.2 866.0,795.0 C868.0,792.8 870.0,790.0 872.0,787.0 C874.0,784.0 876.0,781.7 878.0,777.0 C880.0,772.3 882.3,763.5 884.0,759.0 C885.7,754.5 886.5,753.5 888.0,750.0 C889.5,746.5 891.7,740.8 893.0,738.0 C894.3,735.2 895.0,734.5 896.0,733.0 C897.0,731.5 898.0,730.8 899.0,729.0 C900.0,727.2 901.1,724.0 902.0,722.0 C902.9,720.0 903.7,717.2 904.5,717.0 C905.3,716.8 905.9,718.9 907.0,721.0 C908.1,723.1 909.8,728.5 911.0,729.7 C912.2,730.9 913.0,728.5 914.0,728.0 C915.0,727.5 916.0,726.5 917.0,726.7 C918.0,726.9 919.1,728.1 920.0,729.0 C920.9,729.9 921.6,732.2 922.5,732.0 C923.4,731.8 924.5,729.2 925.5,728.0 C926.5,726.8 927.5,724.6 928.5,724.6 C929.5,724.6 930.5,726.8 931.5,728.0 C932.5,729.2 933.6,731.7 934.5,732.0 C935.4,732.3 936.1,730.5 937.0,730.0 C937.9,729.5 938.8,729.8 939.6,729.0 C940.4,728.2 941.3,725.7 942.0,725.0 C942.7,724.3 942.9,724.5 944.0,724.6 C945.1,724.7 947.4,723.8 948.6,725.5 C949.8,727.2 950.0,731.4 951.0,735.0 C952.0,738.6 953.3,743.4 954.6,747.0 C955.9,750.6 957.3,754.1 959.0,756.7 C960.7,759.3 963.0,760.2 965.0,762.7 C967.0,765.2 969.0,768.6 971.0,772.0 C973.0,775.4 975.0,779.8 977.0,783.0 C979.0,786.2 981.0,788.5 983.0,791.0 C985.0,793.5 987.0,796.1 989.0,798.0 C991.0,799.9 993.0,801.2 995.0,802.5 C997.0,803.8 998.8,804.8 1001.0,805.7 C1003.2,806.6 1005.5,807.4 1008.0,808.0 C1010.5,808.6 1014.7,809.1 1016.0,809.3" fill="none" stroke="#111" stroke-width="1.5" stroke-linejoin="round"/>
<path d="M843.6,877.1 C844.5,876.8 847.3,876.2 849.0,875.5 C850.7,874.8 852.3,874.2 854.0,873.0 C855.7,871.8 857.5,870.0 859.0,868.0 C860.5,866.0 861.8,863.7 863.0,861.0 C864.2,858.3 865.0,855.5 866.0,852.0 C867.0,848.5 868.1,844.3 869.0,840.0 C869.9,835.7 870.7,830.0 871.5,826.0 C872.3,822.0 872.8,818.7 873.6,816.0 C874.5,813.3 875.6,810.3 876.6,809.6 C877.6,808.9 878.5,811.0 879.5,812.0 C880.5,813.0 881.5,815.9 882.6,815.6 C883.7,815.3 884.8,811.9 886.0,810.0 C887.2,808.1 888.8,805.7 890.0,804.0 C891.2,802.3 892.0,801.1 893.0,800.0 C894.0,798.9 894.8,798.1 896.0,797.6 C897.2,797.1 898.6,797.1 900.0,797.0 C901.4,796.9 903.3,797.7 904.5,796.7 C905.7,795.7 906.1,792.6 907.0,791.0 C907.9,789.4 908.8,787.3 909.6,786.8 C910.4,786.3 911.3,787.6 912.0,788.0 C912.7,788.4 913.2,789.2 914.0,789.0 C914.8,788.8 915.7,787.2 916.5,787.0 C917.3,786.8 917.9,787.0 918.6,787.7 C919.3,788.4 919.9,789.8 920.5,791.0 C921.1,792.2 921.8,795.5 922.5,795.0 C923.2,794.5 924.1,790.2 925.0,788.0 C925.9,785.8 926.7,782.4 927.6,781.7 C928.5,781.0 929.5,783.3 930.5,784.0 C931.5,784.7 932.6,785.6 933.6,786.0 C934.6,786.4 935.5,786.1 936.5,786.5 C937.5,786.9 938.7,786.9 939.6,788.6 C940.5,790.4 941.3,793.8 942.0,797.0 C942.7,800.2 943.2,804.3 944.0,808.0 C944.8,811.7 945.7,815.5 946.5,819.0 C947.3,822.5 947.8,826.5 948.6,829.0 C949.4,831.5 950.5,832.5 951.5,834.0 C952.5,835.5 953.4,836.5 954.6,838.0 C955.9,839.5 957.5,841.2 959.0,843.0 C960.5,844.8 962.3,848.3 963.7,848.6 C965.1,848.9 966.3,846.0 967.5,845.0 C968.7,844.0 969.7,842.1 971.0,842.6 C972.3,843.1 974.0,846.0 975.5,848.0 C977.0,850.0 978.6,854.0 980.0,854.6 C981.4,855.2 982.7,852.3 984.0,851.5 C985.3,850.7 986.4,850.1 987.7,850.0 C989.0,849.9 990.5,850.5 992.0,851.0 C993.5,851.5 995.3,851.8 996.7,853.0 C998.1,854.2 999.3,856.2 1000.5,858.0 C1001.7,859.8 1002.7,861.9 1004.0,863.6 C1005.3,865.3 1007.0,866.0 1008.5,868.0 C1010.0,870.0 1011.5,874.1 1013.0,875.6 C1014.5,877.1 1016.9,876.8 1017.7,877.0 L1017.7,877.1 L843.6,877.1 Z" fill="#2020ff" fill-opacity="0.47" stroke="none"/>
<path d="M792.5,877.1 L1064.8,877.1" fill="none" stroke="#1414f0" stroke-width="1.3"/>
<path d="M843.6,877.1 C844.5,876.8 847.3,876.2 849.0,875.5 C850.7,874.8 852.3,874.2 854.0,873.0 C855.7,871.8 857.5,870.0 859.0,868.0 C860.5,866.0 861.8,863.7 863.0,861.0 C864.2,858.3 865.0,855.5 866.0,852.0 C867.0,848.5 868.1,844.3 869.0,840.0 C869.9,835.7 870.7,830.0 871.5,826.0 C872.3,822.0 872.8,818.7 873.6,816.0 C874.5,813.3 875.6,810.3 876.6,809.6 C877.6,808.9 878.5,811.0 879.5,812.0 C880.5,813.0 881.5,815.9 882.6,815.6 C883.7,815.3 884.8,811.9 886.0,810.0 C887.2,808.1 888.8,805.7 890.0,804.0 C891.2,802.3 892.0,801.1 893.0,800.0 C894.0,798.9 894.8,798.1 896.0,797.6 C897.2,797.1 898.6,797.1 900.0,797.0 C901.4,796.9 903.3,797.7 904.5,796.7 C905.7,795.7 906.1,792.6 907.0,791.0 C907.9,789.4 908.8,787.3 909.6,786.8 C910.4,786.3 911.3,787.6 912.0,788.0 C912.7,788.4 913.2,789.2 914.0,789.0 C914.8,788.8 915.7,787.2 916.5,787.0 C917.3,786.8 917.9,787.0 918.6,787.7 C919.3,788.4 919.9,789.8 920.5,791.0 C921.1,792.2 921.8,795.5 922.5,795.0 C923.2,794.5 924.1,790.2 925.0,788.0 C925.9,785.8 926.7,782.4 927.6,781.7 C928.5,781.0 929.5,783.3 930.5,784.0 C931.5,784.7 932.6,785.6 933.6,786.0 C934.6,786.4 935.5,786.1 936.5,786.5 C937.5,786.9 938.7,786.9 939.6,788.6 C940.5,790.4 941.3,793.8 942.0,797.0 C942.7,800.2 943.2,804.3 944.0,808.0 C944.8,811.7 945.7,815.5 946.5,819.0 C947.3,822.5 947.8,826.5 948.6,829.0 C949.4,831.5 950.5,832.5 951.5,834.0 C952.5,835.5 953.4,836.5 954.6,838.0 C955.9,839.5 957.5,841.2 959.0,843.0 C960.5,844.8 962.3,848.3 963.7,848.6 C965.1,848.9 966.3,846.0 967.5,845.0 C968.7,844.0 969.7,842.1 971.0,842.6 C972.3,843.1 974.0,846.0 975.5,848.0 C977.0,850.0 978.6,854.0 980.0,854.6 C981.4,855.2 982.7,852.3 984.0,851.5 C985.3,850.7 986.4,850.1 987.7,850.0 C989.0,849.9 990.5,850.5 992.0,851.0 C993.5,851.5 995.3,851.8 996.7,853.0 C998.1,854.2 999.3,856.2 1000.5,858.0 C1001.7,859.8 1002.7,861.9 1004.0,863.6 C1005.3,865.3 1007.0,866.0 1008.5,868.0 C1010.0,870.0 1011.5,874.1 1013.0,875.6 C1014.5,877.1 1016.9,876.8 1017.7,877.0" fill="none" stroke="#1414f0" stroke-width="2.0" stroke-linejoin="round"/>
<path d="M846.6,944.0 C847.5,943.2 850.3,941.0 852.0,939.0 C853.7,937.0 855.5,934.7 857.0,932.0 C858.5,929.3 859.7,926.0 861.0,923.0 C862.3,920.0 863.6,916.7 864.6,914.0 C865.6,911.3 866.3,909.2 867.0,907.0 C867.7,904.8 868.0,902.8 869.0,900.6 C870.0,898.4 871.7,895.8 873.0,894.0 C874.3,892.2 875.4,891.2 876.6,890.0 C877.9,888.8 879.3,886.3 880.5,886.5 C881.7,886.7 882.9,889.3 884.0,891.0 C885.1,892.7 885.3,896.0 887.0,896.7 C888.7,897.4 891.5,895.5 894.0,895.0 C896.5,894.5 899.9,893.6 902.0,893.7 C904.1,893.8 904.9,896.3 906.6,895.5 C908.3,894.7 910.3,891.1 912.0,889.0 C913.7,886.9 915.4,883.2 917.0,882.6 C918.6,882.0 920.1,886.0 921.6,885.6 C923.1,885.2 924.5,881.8 926.0,880.0 C927.5,878.2 929.3,877.2 930.6,875.0 C931.9,872.8 933.0,869.5 934.0,867.0 C935.0,864.5 935.7,862.1 936.6,860.0 C937.5,857.9 938.8,854.9 939.6,854.6 C940.4,854.3 940.9,856.4 941.5,858.0 C942.1,859.6 942.9,861.3 943.5,864.5 C944.1,867.7 944.7,872.8 945.3,877.0 C945.9,881.2 946.5,886.2 947.0,890.0 C947.5,893.8 948.0,897.0 948.5,900.0 C949.0,903.0 949.1,905.3 950.0,908.0 C950.9,910.7 952.5,913.7 954.0,916.0 C955.5,918.3 957.4,920.2 959.0,921.6 C960.6,923.0 961.7,924.0 963.7,924.6 C965.7,925.2 969.3,924.8 971.0,925.5 C972.7,926.2 973.0,927.6 974.0,929.0 C975.0,930.4 975.8,932.1 977.0,933.6 C978.2,935.1 979.7,936.8 981.0,938.0 C982.3,939.2 983.5,940.2 984.7,941.0 C985.9,941.8 986.8,942.4 988.0,943.0 C989.2,943.6 991.3,944.2 992.0,944.5 L992.0,945.0 L846.6,945.0 Z" fill="#e63030" fill-opacity="0.47" stroke="none"/>
<path d="M792.5,945.0 L1064.8,945.0" fill="none" stroke="#f02020" stroke-width="1.3"/>
<path d="M846.6,944.0 C847.5,943.2 850.3,941.0 852.0,939.0 C853.7,937.0 855.5,934.7 857.0,932.0 C858.5,929.3 859.7,926.0 861.0,923.0 C862.3,920.0 863.6,916.7 864.6,914.0 C865.6,911.3 866.3,909.2 867.0,907.0 C867.7,904.8 868.0,902.8 869.0,900.6 C870.0,898.4 871.7,895.8 873.0,894.0 C874.3,892.2 875.4,891.2 876.6,890.0 C877.9,888.8 879.3,886.3 880.5,886.5 C881.7,886.7 882.9,889.3 884.0,891.0 C885.1,892.7 885.3,896.0 887.0,896.7 C888.7,897.4 891.5,895.5 894.0,895.0 C896.5,894.5 899.9,893.6 902.0,893.7 C904.1,893.8 904.9,896.3 906.6,895.5 C908.3,894.7 910.3,891.1 912.0,889.0 C913.7,886.9 915.4,883.2 917.0,882.6 C918.6,882.0 920.1,886.0 921.6,885.6 C923.1,885.2 924.5,881.8 926.0,880.0 C927.5,878.2 929.3,877.2 930.6,875.0 C931.9,872.8 933.0,869.5 934.0,867.0 C935.0,864.5 935.7,862.1 936.6,860.0 C937.5,857.9 938.8,854.9 939.6,854.6 C940.4,854.3 940.9,856.4 941.5,858.0 C942.1,859.6 942.9,861.3 943.5,864.5 C944.1,867.7 944.7,872.8 945.3,877.0 C945.9,881.2 946.5,886.2 947.0,890.0 C947.5,893.8 948.0,897.0 948.5,900.0 C949.0,903.0 949.1,905.3 950.0,908.0 C950.9,910.7 952.5,913.7 954.0,916.0 C955.5,918.3 957.4,920.2 959.0,921.6 C960.6,923.0 961.7,924.0 963.7,924.6 C965.7,925.2 969.3,924.8 971.0,925.5 C972.7,926.2 973.0,927.6 974.0,929.0 C975.0,930.4 975.8,932.1 977.0,933.6 C978.2,935.1 979.7,936.8 981.0,938.0 C982.3,939.2 983.5,940.2 984.7,941.0 C985.9,941.8 986.8,942.4 988.0,943.0 C989.2,943.6 991.3,944.2 992.0,944.5" fill="none" stroke="#f02020" stroke-width="2.0" stroke-linejoin="round"/>
<path d="M1127.0,810.8 C1128.3,810.3 1132.5,809.1 1135.0,808.0 C1137.5,806.9 1140.2,805.8 1142.0,804.0 C1143.8,802.2 1144.7,799.5 1146.0,797.0 C1147.3,794.5 1148.6,791.5 1149.8,789.0 C1151.0,786.5 1152.0,784.0 1153.0,782.0 C1154.0,780.0 1154.5,778.7 1155.8,777.0 C1157.1,775.3 1159.3,773.5 1161.0,772.0 C1162.7,770.5 1164.5,767.9 1166.0,768.0 C1167.5,768.1 1168.7,771.2 1170.0,772.5 C1171.3,773.8 1172.5,776.3 1173.8,775.7 C1175.0,775.1 1176.3,771.3 1177.5,769.0 C1178.7,766.7 1179.9,764.3 1181.0,762.0 C1182.1,759.7 1183.0,757.5 1184.0,755.0 C1185.0,752.5 1186.0,750.3 1187.0,747.0 C1188.0,743.7 1189.0,739.0 1190.0,735.0 C1191.0,731.0 1192.0,725.7 1193.0,723.0 C1194.0,720.3 1195.0,720.0 1196.0,719.0 C1197.0,718.0 1198.0,718.7 1199.0,717.0 C1200.0,715.3 1201.0,711.7 1202.0,709.0 C1203.0,706.3 1203.9,700.8 1204.7,701.0 C1205.5,701.2 1206.2,706.8 1207.0,710.0 C1207.8,713.2 1208.7,717.2 1209.8,720.0 C1210.9,722.8 1212.3,724.5 1213.5,727.0 C1214.7,729.5 1215.8,732.3 1217.0,735.0 C1218.2,737.7 1219.7,740.0 1221.0,743.0 C1222.3,746.0 1223.5,749.2 1224.8,753.0 C1226.0,756.8 1227.3,761.5 1228.5,766.0 C1229.7,770.5 1230.8,776.0 1232.0,780.0 C1233.2,784.0 1234.7,787.0 1236.0,790.0 C1237.3,793.0 1238.3,795.9 1239.8,798.0 C1241.3,800.1 1243.3,801.2 1245.0,802.5 C1246.7,803.8 1247.7,804.9 1250.0,805.7 C1252.3,806.5 1256.0,807.0 1259.0,807.5 C1262.0,808.0 1264.0,808.2 1268.0,808.7 C1272.0,809.2 1280.5,810.4 1283.0,810.8 L1283.0,810.8 L1127.0,810.8 Z" fill="#9b9b9b" fill-opacity="1.0" stroke="none"/>
<path d="M1078.6,810.8 L1348.8,810.8" fill="none" stroke="#111" stroke-width="1.3"/>
<path d="M1127.0,810.8 C1128.3,810.3 1132.5,809.1 1135.0,808.0 C1137.5,806.9 1140.2,805.8 1142.0,804.0 C1143.8,802.2 1144.7,799.5 1146.0,797.0 C1147.3,794.5 1148.6,791.5 1149.8,789.0 C1151.0,786.5 1152.0,784.0 1153.0,782.0 C1154.0,780.0 1154.5,778.7 1155.8,777.0 C1157.1,775.3 1159.3,773.5 1161.0,772.0 C1162.7,770.5 1164.5,767.9 1166.0,768.0 C1167.5,768.1 1168.7,771.2 1170.0,772.5 C1171.3,773.8 1172.5,776.3 1173.8,775.7 C1175.0,775.1 1176.3,771.3 1177.5,769.0 C1178.7,766.7 1179.9,764.3 1181.0,762.0 C1182.1,759.7 1183.0,757.5 1184.0,755.0 C1185.0,752.5 1186.0,750.3 1187.0,747.0 C1188.0,743.7 1189.0,739.0 1190.0,735.0 C1191.0,731.0 1192.0,725.7 1193.0,723.0 C1194.0,720.3 1195.0,720.0 1196.0,719.0 C1197.0,718.0 1198.0,718.7 1199.0,717.0 C1200.0,715.3 1201.0,711.7 1202.0,709.0 C1203.0,706.3 1203.9,700.8 1204.7,701.0 C1205.5,701.2 1206.2,706.8 1207.0,710.0 C1207.8,713.2 1208.7,717.2 1209.8,720.0 C1210.9,722.8 1212.3,724.5 1213.5,727.0 C1214.7,729.5 1215.8,732.3 1217.0,735.0 C1218.2,737.7 1219.7,740.0 1221.0,743.0 C1222.3,746.0 1223.5,749.2 1224.8,753.0 C1226.0,756.8 1227.3,761.5 1228.5,766.0 C1229.7,770.5 1230.8,776.0 1232.0,780.0 C1233.2,784.0 1234.7,787.0 1236.0,790.0 C1237.3,793.0 1238.3,795.9 1239.8,798.0 C1241.3,800.1 1243.3,801.2 1245.0,802.5 C1246.7,803.8 1247.7,804.9 1250.0,805.7 C1252.3,806.5 1256.0,807.0 1259.0,807.5 C1262.0,808.0 1264.0,808.2 1268.0,808.7 C1272.0,809.2 1280.5,810.4 1283.0,810.8" fill="none" stroke="#111" stroke-width="1.5" stroke-linejoin="round"/>
<path d="M1121.0,878.3 C1122.5,877.8 1127.0,876.6 1130.0,875.5 C1133.0,874.4 1136.2,873.0 1139.0,871.7 C1141.8,870.4 1144.5,869.0 1147.0,867.5 C1149.5,866.0 1151.8,864.3 1154.0,862.7 C1156.2,861.1 1158.0,859.5 1160.0,858.0 C1162.0,856.5 1164.3,854.5 1166.0,853.7 C1167.7,853.0 1168.7,853.8 1170.0,853.5 C1171.3,853.2 1172.7,852.9 1173.8,852.0 C1174.9,851.1 1175.6,849.2 1176.5,848.0 C1177.4,846.8 1178.2,844.7 1179.0,844.7 C1179.8,844.7 1180.7,847.0 1181.5,848.0 C1182.3,849.0 1182.8,851.0 1184.0,850.7 C1185.2,850.4 1187.0,847.8 1188.5,846.0 C1190.0,844.2 1191.3,841.8 1193.0,840.0 C1194.7,838.2 1196.7,836.7 1198.5,835.0 C1200.3,833.3 1202.3,830.6 1203.8,829.7 C1205.3,828.8 1206.3,829.8 1207.5,829.5 C1208.7,829.2 1209.8,828.9 1211.0,828.0 C1212.2,827.1 1213.7,825.5 1215.0,824.0 C1216.3,822.5 1217.8,821.2 1218.8,819.0 C1219.8,816.8 1220.3,814.0 1221.0,811.0 C1221.7,808.0 1222.1,804.8 1223.0,801.0 C1223.9,797.2 1225.3,791.9 1226.5,788.0 C1227.7,784.1 1229.0,778.1 1230.0,777.8 C1231.0,777.5 1231.8,783.1 1232.7,786.0 C1233.6,788.9 1234.5,792.0 1235.3,795.0 C1236.1,798.0 1236.8,801.0 1237.5,804.0 C1238.2,807.0 1238.9,811.2 1239.8,813.0 C1240.7,814.8 1241.8,813.7 1242.8,814.5 C1243.8,815.3 1244.8,815.8 1245.8,817.7 C1246.8,819.6 1247.8,823.5 1248.8,826.0 C1249.8,828.5 1250.8,831.5 1251.8,832.7 C1252.8,834.0 1253.8,833.0 1254.8,833.5 C1255.8,834.0 1256.4,833.8 1257.8,835.7 C1259.2,837.6 1261.3,842.0 1263.0,845.0 C1264.7,848.0 1266.2,851.2 1268.0,853.7 C1269.8,856.2 1272.0,858.0 1274.0,860.0 C1276.0,862.0 1278.0,863.9 1280.0,865.7 C1282.0,867.5 1284.0,869.5 1286.0,871.0 C1288.0,872.5 1290.2,873.7 1292.0,874.7 C1293.8,875.7 1295.0,876.4 1296.5,877.0 C1298.0,877.6 1300.2,878.1 1301.0,878.3 L1301.0,878.3 L1121.0,878.3 Z" fill="#e63030" fill-opacity="0.47" stroke="none"/>
<path d="M1078.6,878.3 L1348.8,878.3" fill="none" stroke="#f02020" stroke-width="1.3"/>
<path d="M1121.0,878.3 C1122.5,877.8 1127.0,876.6 1130.0,875.5 C1133.0,874.4 1136.2,873.0 1139.0,871.7 C1141.8,870.4 1144.5,869.0 1147.0,867.5 C1149.5,866.0 1151.8,864.3 1154.0,862.7 C1156.2,861.1 1158.0,859.5 1160.0,858.0 C1162.0,856.5 1164.3,854.5 1166.0,853.7 C1167.7,853.0 1168.7,853.8 1170.0,853.5 C1171.3,853.2 1172.7,852.9 1173.8,852.0 C1174.9,851.1 1175.6,849.2 1176.5,848.0 C1177.4,846.8 1178.2,844.7 1179.0,844.7 C1179.8,844.7 1180.7,847.0 1181.5,848.0 C1182.3,849.0 1182.8,851.0 1184.0,850.7 C1185.2,850.4 1187.0,847.8 1188.5,846.0 C1190.0,844.2 1191.3,841.8 1193.0,840.0 C1194.7,838.2 1196.7,836.7 1198.5,835.0 C1200.3,833.3 1202.3,830.6 1203.8,829.7 C1205.3,828.8 1206.3,829.8 1207.5,829.5 C1208.7,829.2 1209.8,828.9 1211.0,828.0 C1212.2,827.1 1213.7,825.5 1215.0,824.0 C1216.3,822.5 1217.8,821.2 1218.8,819.0 C1219.8,816.8 1220.3,814.0 1221.0,811.0 C1221.7,808.0 1222.1,804.8 1223.0,801.0 C1223.9,797.2 1225.3,791.9 1226.5,788.0 C1227.7,784.1 1229.0,778.1 1230.0,777.8 C1231.0,777.5 1231.8,783.1 1232.7,786.0 C1233.6,788.9 1234.5,792.0 1235.3,795.0 C1236.1,798.0 1236.8,801.0 1237.5,804.0 C1238.2,807.0 1238.9,811.2 1239.8,813.0 C1240.7,814.8 1241.8,813.7 1242.8,814.5 C1243.8,815.3 1244.8,815.8 1245.8,817.7 C1246.8,819.6 1247.8,823.5 1248.8,826.0 C1249.8,828.5 1250.8,831.5 1251.8,832.7 C1252.8,834.0 1253.8,833.0 1254.8,833.5 C1255.8,834.0 1256.4,833.8 1257.8,835.7 C1259.2,837.6 1261.3,842.0 1263.0,845.0 C1264.7,848.0 1266.2,851.2 1268.0,853.7 C1269.8,856.2 1272.0,858.0 1274.0,860.0 C1276.0,862.0 1278.0,863.9 1280.0,865.7 C1282.0,867.5 1284.0,869.5 1286.0,871.0 C1288.0,872.5 1290.2,873.7 1292.0,874.7 C1293.8,875.7 1295.0,876.4 1296.5,877.0 C1298.0,877.6 1300.2,878.1 1301.0,878.3" fill="none" stroke="#f02020" stroke-width="2.0" stroke-linejoin="round"/>
<path d="M1142.3,945.0 C1142.9,944.0 1144.8,941.2 1146.0,939.0 C1147.2,936.8 1148.5,934.5 1149.8,932.0 C1151.0,929.5 1152.2,926.5 1153.5,924.0 C1154.8,921.5 1156.0,918.8 1157.3,917.0 C1158.5,915.2 1159.8,914.2 1161.0,913.0 C1162.2,911.8 1163.6,911.3 1164.8,909.6 C1166.0,907.9 1166.9,905.1 1168.0,903.0 C1169.1,900.9 1170.4,897.3 1171.4,897.0 C1172.4,896.7 1173.1,899.7 1174.0,901.0 C1174.9,902.3 1176.0,905.5 1176.8,905.0 C1177.6,904.5 1178.2,900.5 1179.0,898.0 C1179.8,895.5 1180.5,893.3 1181.3,890.0 C1182.0,886.7 1182.8,882.0 1183.5,878.0 C1184.2,874.0 1185.0,869.2 1185.8,866.0 C1186.5,862.8 1187.2,860.8 1188.0,859.0 C1188.8,857.2 1189.4,855.8 1190.3,855.5 C1191.2,855.2 1192.3,857.1 1193.3,857.0 C1194.3,856.9 1195.2,854.0 1196.3,855.0 C1197.4,856.0 1198.8,860.2 1200.0,863.0 C1201.2,865.8 1202.5,872.8 1203.8,872.0 C1205.0,871.2 1206.2,862.3 1207.5,858.0 C1208.8,853.7 1210.2,846.2 1211.3,846.0 C1212.4,845.8 1213.3,853.2 1214.3,857.0 C1215.3,860.8 1216.2,865.0 1217.3,869.0 C1218.4,873.0 1219.8,877.0 1221.0,881.0 C1222.2,885.0 1223.5,888.5 1224.8,893.0 C1226.0,897.5 1227.2,903.0 1228.5,908.0 C1229.8,913.0 1231.3,919.5 1232.3,923.0 C1233.3,926.5 1233.8,927.2 1234.5,929.0 C1235.2,930.8 1235.4,932.7 1236.8,933.6 C1238.2,934.5 1240.8,934.3 1243.0,934.5 C1245.2,934.7 1248.2,934.1 1250.3,935.0 C1252.4,935.9 1253.7,938.6 1255.5,940.0 C1257.3,941.4 1260.0,942.9 1260.9,943.5 L1260.9,945.6 L1142.3,945.6 Z" fill="#2020ff" fill-opacity="0.47" stroke="none"/>
<path d="M1078.6,945.6 L1348.8,945.6" fill="none" stroke="#1414f0" stroke-width="1.3"/>
<path d="M1142.3,945.0 C1142.9,944.0 1144.8,941.2 1146.0,939.0 C1147.2,936.8 1148.5,934.5 1149.8,932.0 C1151.0,929.5 1152.2,926.5 1153.5,924.0 C1154.8,921.5 1156.0,918.8 1157.3,917.0 C1158.5,915.2 1159.8,914.2 1161.0,913.0 C1162.2,911.8 1163.6,911.3 1164.8,909.6 C1166.0,907.9 1166.9,905.1 1168.0,903.0 C1169.1,900.9 1170.4,897.3 1171.4,897.0 C1172.4,896.7 1173.1,899.7 1174.0,901.0 C1174.9,902.3 1176.0,905.5 1176.8,905.0 C1177.6,904.5 1178.2,900.5 1179.0,898.0 C1179.8,895.5 1180.5,893.3 1181.3,890.0 C1182.0,886.7 1182.8,882.0 1183.5,878.0 C1184.2,874.0 1185.0,869.2 1185.8,866.0 C1186.5,862.8 1187.2,860.8 1188.0,859.0 C1188.8,857.2 1189.4,855.8 1190.3,855.5 C1191.2,855.2 1192.3,857.1 1193.3,857.0 C1194.3,856.9 1195.2,854.0 1196.3,855.0 C1197.4,856.0 1198.8,860.2 1200.0,863.0 C1201.2,865.8 1202.5,872.8 1203.8,872.0 C1205.0,871.2 1206.2,862.3 1207.5,858.0 C1208.8,853.7 1210.2,846.2 1211.3,846.0 C1212.4,845.8 1213.3,853.2 1214.3,857.0 C1215.3,860.8 1216.2,865.0 1217.3,869.0 C1218.4,873.0 1219.8,877.0 1221.0,881.0 C1222.2,885.0 1223.5,888.5 1224.8,893.0 C1226.0,897.5 1227.2,903.0 1228.5,908.0 C1229.8,913.0 1231.3,919.5 1232.3,923.0 C1233.3,926.5 1233.8,927.2 1234.5,929.0 C1235.2,930.8 1235.4,932.7 1236.8,933.6 C1238.2,934.5 1240.8,934.3 1243.0,934.5 C1245.2,934.7 1248.2,934.1 1250.3,935.0 C1252.4,935.9 1253.7,938.6 1255.5,940.0 C1257.3,941.4 1260.0,942.9 1260.9,943.5" fill="none" stroke="#1414f0" stroke-width="2.0" stroke-linejoin="round"/>
<rect x="792.5" y="671.2" width="272.3" height="273.8" fill="none" stroke="#222" stroke-width="1.3"/>
<rect x="1078.6" y="673.6" width="270.2" height="272.0" fill="none" stroke="#222" stroke-width="1.3"/>
<line x1="793.4" y1="945.0" x2="793.4" y2="952.0" stroke="#000" stroke-width="1.5"/>
<line x1="810.6" y1="945.0" x2="810.6" y2="948.8" stroke="#000" stroke-width="1.5"/>
<line x1="820.6" y1="945.0" x2="820.6" y2="948.8" stroke="#000" stroke-width="1.5"/>
<line x1="827.7" y1="945.0" x2="827.7" y2="948.8" stroke="#000" stroke-width="1.5"/>
<line x1="833.2" y1="945.0" x2="833.2" y2="948.8" stroke="#000" stroke-width="1.5"/>
<line x1="837.8" y1="945.0" x2="837.8" y2="948.8" stroke="#000" stroke-width="1.5"/>
<line x1="841.6" y1="945.0" x2="841.6" y2="948.8" stroke="#000" stroke-width="1.5"/>
<line x1="844.9" y1="945.0" x2="844.9" y2="948.8" stroke="#000" stroke-width="1.5"/>
<line x1="847.8" y1="945.0" x2="847.8" y2="948.8" stroke="#000" stroke-width="1.5"/>
<line x1="850.4" y1="945.0" x2="850.4" y2="952.0" stroke="#000" stroke-width="1.5"/>
<line x1="867.6" y1="945.0" x2="867.6" y2="948.8" stroke="#000" stroke-width="1.5"/>
<line x1="877.6" y1="945.0" x2="877.6" y2="948.8" stroke="#000" stroke-width="1.5"/>
<line x1="884.7" y1="945.0" x2="884.7" y2="948.8" stroke="#000" stroke-width="1.5"/>
<line x1="890.2" y1="945.0" x2="890.2" y2="948.8" stroke="#000" stroke-width="1.5"/>
<line x1="894.8" y1="945.0" x2="894.8" y2="948.8" stroke="#000" stroke-width="1.5"/>
<line x1="898.6" y1="945.0" x2="898.6" y2="948.8" stroke="#000" stroke-width="1.5"/>
<line x1="901.9" y1="945.0" x2="901.9" y2="948.8" stroke="#000" stroke-width="1.5"/>
<line x1="904.8" y1="945.0" x2="904.8" y2="948.8" stroke="#000" stroke-width="1.5"/>
<line x1="907.4" y1="945.0" x2="907.4" y2="952.0" stroke="#000" stroke-width="1.5"/>
<line x1="924.6" y1="945.0" x2="924.6" y2="948.8" stroke="#000" stroke-width="1.5"/>
<line x1="934.6" y1="945.0" x2="934.6" y2="948.8" stroke="#000" stroke-width="1.5"/>
<line x1="941.7" y1="945.0" x2="941.7" y2="948.8" stroke="#000" stroke-width="1.5"/>
<line x1="947.2" y1="945.0" x2="947.2" y2="948.8" stroke="#000" stroke-width="1.5"/>
<line x1="951.8" y1="945.0" x2="951.8" y2="948.8" stroke="#000" stroke-width="1.5"/>
<line x1="955.6" y1="945.0" x2="955.6" y2="948.8" stroke="#000" stroke-width="1.5"/>
<line x1="958.9" y1="945.0" x2="958.9" y2="948.8" stroke="#000" stroke-width="1.5"/>
<line x1="961.8" y1="945.0" x2="961.8" y2="948.8" stroke="#000" stroke-width="1.5"/>
<line x1="964.4" y1="945.0" x2="964.4" y2="952.0" stroke="#000" stroke-width="1.5"/>
<line x1="981.6" y1="945.0" x2="981.6" y2="948.8" stroke="#000" stroke-width="1.5"/>
<line x1="991.6" y1="945.0" x2="991.6" y2="948.8" stroke="#000" stroke-width="1.5"/>
<line x1="998.7" y1="945.0" x2="998.7" y2="948.8" stroke="#000" stroke-width="1.5"/>
<line x1="1004.2" y1="945.0" x2="1004.2" y2="948.8" stroke="#000" stroke-width="1.5"/>
<line x1="1008.8" y1="945.0" x2="1008.8" y2="948.8" stroke="#000" stroke-width="1.5"/>
<line x1="1012.6" y1="945.0" x2="1012.6" y2="948.8" stroke="#000" stroke-width="1.5"/>
<line x1="1015.9" y1="945.0" x2="1015.9" y2="948.8" stroke="#000" stroke-width="1.5"/>
<line x1="1018.8" y1="945.0" x2="1018.8" y2="948.8" stroke="#000" stroke-width="1.5"/>
<line x1="1021.4" y1="945.0" x2="1021.4" y2="952.0" stroke="#000" stroke-width="1.5"/>
<line x1="1038.6" y1="945.0" x2="1038.6" y2="948.8" stroke="#000" stroke-width="1.5"/>
<line x1="1048.6" y1="945.0" x2="1048.6" y2="948.8" stroke="#000" stroke-width="1.5"/>
<line x1="1055.7" y1="945.0" x2="1055.7" y2="948.8" stroke="#000" stroke-width="1.5"/>
<line x1="1061.2" y1="945.0" x2="1061.2" y2="948.8" stroke="#000" stroke-width="1.5"/>
<line x1="1079.0" y1="945.6" x2="1079.0" y2="952.6" stroke="#000" stroke-width="1.5"/>
<line x1="1096.1" y1="945.6" x2="1096.1" y2="949.4" stroke="#000" stroke-width="1.5"/>
<line x1="1106.1" y1="945.6" x2="1106.1" y2="949.4" stroke="#000" stroke-width="1.5"/>
<line x1="1113.3" y1="945.6" x2="1113.3" y2="949.4" stroke="#000" stroke-width="1.5"/>
<line x1="1118.8" y1="945.6" x2="1118.8" y2="949.4" stroke="#000" stroke-width="1.5"/>
<line x1="1123.3" y1="945.6" x2="1123.3" y2="949.4" stroke="#000" stroke-width="1.5"/>
<line x1="1127.1" y1="945.6" x2="1127.1" y2="949.4" stroke="#000" stroke-width="1.5"/>
<line x1="1130.4" y1="945.6" x2="1130.4" y2="949.4" stroke="#000" stroke-width="1.5"/>
<line x1="1133.3" y1="945.6" x2="1133.3" y2="949.4" stroke="#000" stroke-width="1.5"/>
<line x1="1135.9" y1="945.6" x2="1135.9" y2="952.6" stroke="#000" stroke-width="1.5"/>
<line x1="1153.0" y1="945.6" x2="1153.0" y2="949.4" stroke="#000" stroke-width="1.5"/>
<line x1="1163.0" y1="945.6" x2="1163.0" y2="949.4" stroke="#000" stroke-width="1.5"/>
<line x1="1170.2" y1="945.6" x2="1170.2" y2="949.4" stroke="#000" stroke-width="1.5"/>
<line x1="1175.7" y1="945.6" x2="1175.7" y2="949.4" stroke="#000" stroke-width="1.5"/>
<line x1="1180.2" y1="945.6" x2="1180.2" y2="949.4" stroke="#000" stroke-width="1.5"/>
<line x1="1184.0" y1="945.6" x2="1184.0" y2="949.4" stroke="#000" stroke-width="1.5"/>
<line x1="1187.3" y1="945.6" x2="1187.3" y2="949.4" stroke="#000" stroke-width="1.5"/>
<line x1="1190.2" y1="945.6" x2="1190.2" y2="949.4" stroke="#000" stroke-width="1.5"/>
<line x1="1192.8" y1="945.6" x2="1192.8" y2="952.6" stroke="#000" stroke-width="1.5"/>
<line x1="1209.9" y1="945.6" x2="1209.9" y2="949.4" stroke="#000" stroke-width="1.5"/>
<line x1="1219.9" y1="945.6" x2="1219.9" y2="949.4" stroke="#000" stroke-width="1.5"/>
<line x1="1227.1" y1="945.6" x2="1227.1" y2="949.4" stroke="#000" stroke-width="1.5"/>
<line x1="1232.6" y1="945.6" x2="1232.6" y2="949.4" stroke="#000" stroke-width="1.5"/>
<line x1="1237.1" y1="945.6" x2="1237.1" y2="949.4" stroke="#000" stroke-width="1.5"/>
<line x1="1240.9" y1="945.6" x2="1240.9" y2="949.4" stroke="#000" stroke-width="1.5"/>
<line x1="1244.2" y1="945.6" x2="1244.2" y2="949.4" stroke="#000" stroke-width="1.5"/>
<line x1="1247.1" y1="945.6" x2="1247.1" y2="949.4" stroke="#000" stroke-width="1.5"/>
<line x1="1249.7" y1="945.6" x2="1249.7" y2="952.6" stroke="#000" stroke-width="1.5"/>
<line x1="1266.8" y1="945.6" x2="1266.8" y2="949.4" stroke="#000" stroke-width="1.5"/>
<line x1="1276.8" y1="945.6" x2="1276.8" y2="949.4" stroke="#000" stroke-width="1.5"/>
<line x1="1284.0" y1="945.6" x2="1284.0" y2="949.4" stroke="#000" stroke-width="1.5"/>
<line x1="1289.5" y1="945.6" x2="1289.5" y2="949.4" stroke="#000" stroke-width="1.5"/>
<line x1="1294.0" y1="945.6" x2="1294.0" y2="949.4" stroke="#000" stroke-width="1.5"/>
<line x1="1297.8" y1="945.6" x2="1297.8" y2="949.4" stroke="#000" stroke-width="1.5"/>
<line x1="1301.1" y1="945.6" x2="1301.1" y2="949.4" stroke="#000" stroke-width="1.5"/>
<line x1="1304.0" y1="945.6" x2="1304.0" y2="949.4" stroke="#000" stroke-width="1.5"/>
<line x1="1306.6" y1="945.6" x2="1306.6" y2="952.6" stroke="#000" stroke-width="1.5"/>
<line x1="1323.7" y1="945.6" x2="1323.7" y2="949.4" stroke="#000" stroke-width="1.5"/>
<line x1="1333.7" y1="945.6" x2="1333.7" y2="949.4" stroke="#000" stroke-width="1.5"/>
<line x1="1340.9" y1="945.6" x2="1340.9" y2="949.4" stroke="#000" stroke-width="1.5"/>
<line x1="1346.4" y1="945.6" x2="1346.4" y2="949.4" stroke="#000" stroke-width="1.5"/>
<text x="772.5" y="989.0" font-size="39" >10<tspan font-size="24" dy="-13.3">3</tspan></text>
<text x="876.7" y="989.0" font-size="39" >10<tspan font-size="24" dy="-13.3">5</tspan></text>
<text x="981.0" y="989.0" font-size="39" >10<tspan font-size="24" dy="-13.3">7</tspan></text>
<text x="1050.0" y="989.0" font-size="39" >10<tspan font-size="24" dy="-13.3">3</tspan></text>
<text x="1153.8" y="989.0" font-size="39" >10<tspan font-size="24" dy="-13.3">5</tspan></text>
<text x="1259.0" y="989.0" font-size="39" >10<tspan font-size="24" dy="-13.3">7</tspan></text>
<text x="753.0" y="1042.6" font-size="40" >ROS PE</text>
<line x1="917.7" y1="1030.3" x2="1123.3000000000002" y2="1030.3" stroke="#000" stroke-width="6.3"/>
<polygon points="1121.3000000000002,1018.8 1145.9,1030.3 1121.3000000000002,1041.8" fill="#000"/>
<text x="1399.5" y="1007.0" font-size="40" transform="rotate(-90 1399.5 1007.0)" font-family="Liberation Sans, Noto Serif CJK SC, sans-serif">MFI of ROS（<tspan dx="1" letter-spacing="2">×10</tspan><tspan font-size="26" dy="-19">3</tspan><tspan dy="19">）</tspan></text>
<line x1="1495.6" y1="721.3" x2="1495.6" y2="967" stroke="#000" stroke-width="6.2"/>
<text x="1473.0" y="978.0" font-size="40" text-anchor="end" >0</text>
<line x1="1479.5" y1="903.9" x2="1495.6" y2="903.9" stroke="#000" stroke-width="6"/>
<text x="1473.0" y="917.9" font-size="40" text-anchor="end" >200</text>
<line x1="1479.5" y1="843.8" x2="1495.6" y2="843.8" stroke="#000" stroke-width="6"/>
<text x="1473.0" y="857.8" font-size="40" text-anchor="end" >400</text>
<line x1="1479.5" y1="783.7" x2="1495.6" y2="783.7" stroke="#000" stroke-width="6"/>
<text x="1473.0" y="797.7" font-size="40" text-anchor="end" >600</text>
<line x1="1479.5" y1="723.6" x2="1495.6" y2="723.6" stroke="#000" stroke-width="6"/>
<text x="1473.0" y="737.6" font-size="40" text-anchor="end" >800</text>
<rect x="1529.0" y="795.0" width="54.4" height="169.0" fill="#000" stroke="#000" stroke-width="5.6"/>
<circle cx="1556.3" cy="788.8" r="11.8" fill="#fff" stroke="#000" stroke-width="5.6"/>
<circle cx="1538.0" cy="793.0" r="11.8" fill="#fff" stroke="#000" stroke-width="5.6"/>
<circle cx="1575.0" cy="789.5" r="11.8" fill="#fff" stroke="#000" stroke-width="5.6"/>
<rect x="1619.0" y="781.3" width="54.4" height="182.7" fill="#ff2010" stroke="#000" stroke-width="5.6"/>
<line x1="1646.2" y1="781.3" x2="1646.2" y2="761.3" stroke="#000" stroke-width="5"/>
<line x1="1632.2" y1="761.3" x2="1660.2" y2="761.3" stroke="#000" stroke-width="5"/>
<circle cx="1627.5" cy="797.0" r="11.8" fill="#fff" stroke="#000" stroke-width="5.6"/>
<circle cx="1663.8" cy="785.0" r="11.8" fill="#fff" stroke="#000" stroke-width="5.6"/>
<circle cx="1627.5" cy="762.5" r="11.8" fill="#fff" stroke="#000" stroke-width="5.6"/>
<rect x="1709.0" y="790.0" width="54.4" height="174.0" fill="#1a00ff" stroke="#000" stroke-width="5.6"/>
<circle cx="1717.5" cy="787.5" r="11.8" fill="#fff" stroke="#000" stroke-width="5.6"/>
<circle cx="1754.5" cy="785.5" r="11.8" fill="#fff" stroke="#000" stroke-width="5.6"/>
<circle cx="1735.8" cy="781.3" r="11.8" fill="#fff" stroke="#000" stroke-width="5.6"/>
<rect x="1858.8" y="865.0" width="54.4" height="99.0" fill="#000" stroke="#000" stroke-width="5.6"/>
<circle cx="1886.0" cy="854.5" r="11.8" fill="#fff" stroke="#000" stroke-width="5.6"/>
<circle cx="1867.3" cy="858.8" r="11.8" fill="#fff" stroke="#000" stroke-width="5.6"/>
<circle cx="1904.8" cy="858.0" r="11.8" fill="#fff" stroke="#000" stroke-width="5.6"/>
<rect x="1948.8" y="802.5" width="54.4" height="161.5" fill="#ff2010" stroke="#000" stroke-width="5.6"/>
<line x1="1976.0" y1="802.5" x2="1976.0" y2="781.8" stroke="#000" stroke-width="5"/>
<line x1="1962.0" y1="781.8" x2="1990.0" y2="781.8" stroke="#000" stroke-width="5"/>
<circle cx="1957.3" cy="815.5" r="11.8" fill="#fff" stroke="#000" stroke-width="5.6"/>
<circle cx="1994.0" cy="799.5" r="11.8" fill="#fff" stroke="#000" stroke-width="5.6"/>
<circle cx="1957.3" cy="784.5" r="11.8" fill="#fff" stroke="#000" stroke-width="5.6"/>
<rect x="2038.8" y="845.0" width="54.4" height="119.0" fill="#1a00ff" stroke="#000" stroke-width="5.6"/>
<circle cx="2047.3" cy="841.3" r="11.8" fill="#fff" stroke="#000" stroke-width="5.6"/>
<circle cx="2084.3" cy="835.5" r="11.8" fill="#fff" stroke="#000" stroke-width="5.6"/>
<circle cx="2065.5" cy="834.5" r="11.8" fill="#fff" stroke="#000" stroke-width="5.6"/>
<line x1="1479.5" y1="964" x2="2128.5" y2="964" stroke="#000" stroke-width="6.5"/>
<line x1="1645" y1="964" x2="1645" y2="987.8" stroke="#000" stroke-width="6"/>
<line x1="1975" y1="964" x2="1975" y2="987.8" stroke="#000" stroke-width="6"/>
<text x="1414.5" y="1018.4" font-size="40" >Treg</text>
<text x="1645.3" y="1030.0" font-size="40" text-anchor="middle" >-</text>
<text x="1975.0" y="1030.0" font-size="40" text-anchor="middle" >+</text>
<text x="1472.5" y="717.5" font-size="39.5" ><tspan font-style="italic">P</tspan>=0.6433</text>
<polyline points="1546.6,738.0 1546.6,725.3 1634.0,725.3 1634.0,738.0" fill="none" stroke="#000" stroke-width="5.6" stroke-linejoin="miter"/>
<text x="1651.8" y="716.3" font-size="39.5" ><tspan font-style="italic">P</tspan>=0.9725</text>
<polyline points="1657.8,737.0 1657.8,724.0 1746.0,724.0 1746.0,737.0" fill="none" stroke="#000" stroke-width="5.6" stroke-linejoin="miter"/>
<text x="1787.8" y="750.0" font-size="39.5" ><tspan font-style="italic">P</tspan>=3.61×10<tspan font-size="26.9" dy="-15.8">-5</tspan></text>
<polyline points="1877.1,767.5 1877.1,755.3 1964.7,755.3 1964.7,767.5" fill="none" stroke="#000" stroke-width="5.6" stroke-linejoin="miter"/>
<text x="1985.3" y="685.0" font-size="39.5" ><tspan font-style="italic">P</tspan>=0.0018</text>
<polyline points="1988.8,706.3 1988.8,693.5 2076.5,693.5 2076.5,706.3" fill="none" stroke="#000" stroke-width="5.6" stroke-linejoin="miter"/>
</svg>
</body></html>
